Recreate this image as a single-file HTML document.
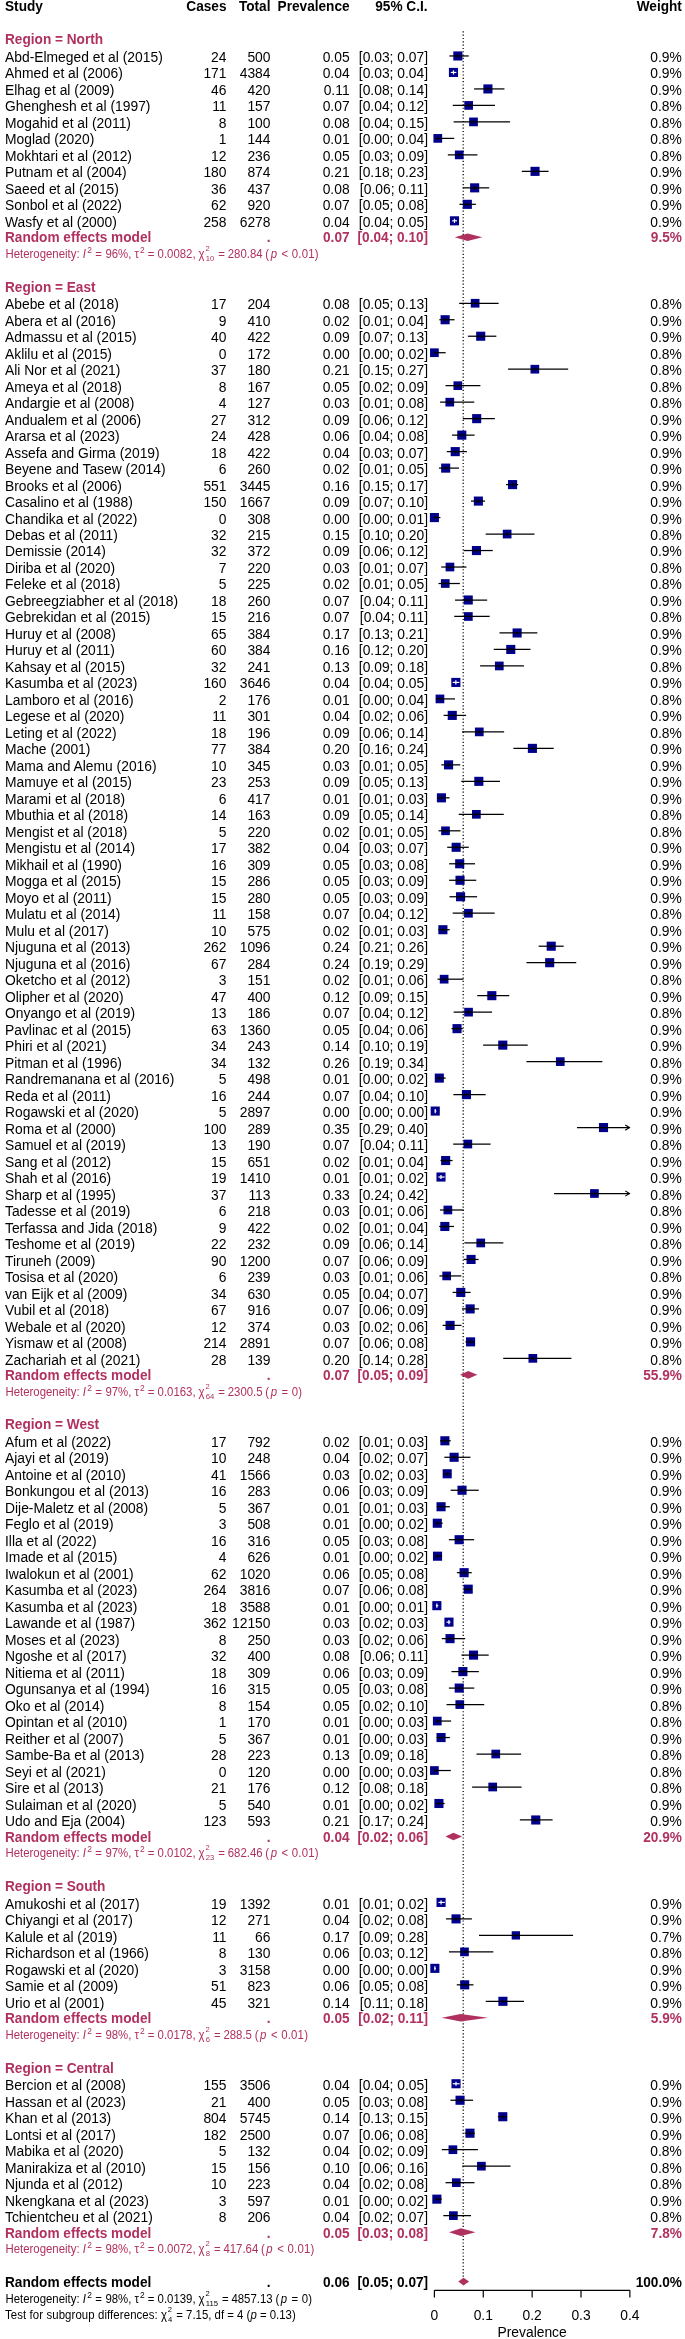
<!DOCTYPE html>
<html><head><meta charset="utf-8"><title>Forest plot</title><style>
html,body{margin:0;padding:0;background:#fff;}
html{overflow:hidden;}
body{width:685px;height:2339px;position:relative;overflow:hidden;font-family:"Liberation Sans",sans-serif;color:#000;}
.t{position:absolute;white-space:nowrap;font-size:13.85px;line-height:16px;height:16px;transform:scaleY(1.045);transform-origin:0 12.75px;}
.r{text-align:right;}
.c{text-align:center;}
.b{font-weight:bold;font-size:13.65px;}
.m{color:#b03060;}
.h{font-size:11.4px;}
.h sup{font-size:8.4px;vertical-align:baseline;position:relative;top:-5.2px;line-height:0;}
.s1{margin-left:1.3px;margin-right:0.2px;}
.tau{margin-left:0px;}
.g{margin-left:0.4px;}
.s2{margin-left:1px;margin-right:-0.2px;}
.chi{position:relative;display:inline-block;margin-left:-0.2px;margin-right:0.8px;}
.ld{letter-spacing:0.1px;}
.q{margin-left:-0.3px;}
.pv{margin-left:-0.4px;letter-spacing:0.2px;}
.pv i{margin-left:1.3px;margin-right:1.0px;}
.chi sup{top:-6.6px;margin-left:0.9px;font-size:7.6px;}
.chi sub{font-size:7.7px;vertical-align:baseline;position:relative;top:3.4px;line-height:0;margin-left:-4px;}
svg{position:absolute;left:0;top:0;}
#tx{position:absolute;left:0;top:0;width:685px;height:2339px;will-change:transform;overflow:hidden;}
.ci{stroke:#000;stroke-width:1.25;}
.ciw{stroke:#fff;stroke-width:1.2;}
.tk{stroke:#000;stroke-width:1;}
.ar{stroke:#000;stroke-width:1.1;fill:none;}
.ref{stroke:#000;stroke-width:1.25;stroke-dasharray:1.15 2.17;}
.ax{stroke:#000;stroke-width:1.2;}
</style></head><body>
<svg width="685" height="2339" viewBox="0 0 685 2339"><line x1="463.2" y1="31.30" x2="463.2" y2="2281.98" class="ref"/>
<rect x="453.31" y="51.41" width="9.1" height="9.1" fill="#00008b"/>
<line x1="449.41" y1="55.96" x2="468.76" y2="55.96" class="ci"/>
<line x1="457.86" y1="54.26" x2="457.86" y2="57.66" class="tk"/>
<rect x="448.91" y="67.89" width="9.1" height="9.1" fill="#00008b"/>
<line x1="450.76" y1="72.44" x2="456.34" y2="72.44" class="ciw"/>
<line x1="453.46" y1="70.34" x2="453.46" y2="74.54" class="ciw"/>
<rect x="483.37" y="84.38" width="9.1" height="9.1" fill="#00008b"/>
<line x1="474.10" y1="88.93" x2="504.44" y2="88.93" class="ci"/>
<line x1="487.92" y1="87.23" x2="487.92" y2="90.63" class="tk"/>
<rect x="464.29" y="101.07" width="8.7" height="8.7" fill="#00008b"/>
<line x1="452.79" y1="105.42" x2="495.01" y2="105.42" class="ci"/>
<line x1="468.64" y1="103.72" x2="468.64" y2="107.12" class="tk"/>
<rect x="469.15" y="117.55" width="8.7" height="8.7" fill="#00008b"/>
<line x1="453.60" y1="121.90" x2="510.10" y2="121.90" class="ci"/>
<line x1="473.50" y1="120.20" x2="473.50" y2="123.60" class="tk"/>
<rect x="433.44" y="134.04" width="8.7" height="8.7" fill="#00008b"/>
<line x1="435.68" y1="138.39" x2="454.21" y2="138.39" class="ci"/>
<line x1="437.79" y1="136.69" x2="437.79" y2="140.09" class="tk"/>
<rect x="454.90" y="150.53" width="8.7" height="8.7" fill="#00008b"/>
<line x1="447.84" y1="154.88" x2="477.45" y2="154.88" class="ci"/>
<line x1="459.25" y1="153.18" x2="459.25" y2="156.58" class="tk"/>
<rect x="530.50" y="166.81" width="9.1" height="9.1" fill="#00008b"/>
<line x1="521.80" y1="171.36" x2="548.54" y2="171.36" class="ci"/>
<line x1="535.05" y1="169.66" x2="535.05" y2="173.06" class="tk"/>
<rect x="470.11" y="183.30" width="9.1" height="9.1" fill="#00008b"/>
<line x1="462.87" y1="187.85" x2="489.19" y2="187.85" class="ci"/>
<line x1="474.66" y1="186.15" x2="474.66" y2="189.55" class="tk"/>
<rect x="462.78" y="199.78" width="9.1" height="9.1" fill="#00008b"/>
<line x1="459.46" y1="204.33" x2="475.84" y2="204.33" class="ci"/>
<line x1="467.33" y1="202.63" x2="467.33" y2="206.03" class="tk"/>
<rect x="449.93" y="216.27" width="9.1" height="9.1" fill="#00008b"/>
<line x1="452.15" y1="220.82" x2="457.03" y2="220.82" class="ciw"/>
<line x1="454.48" y1="218.72" x2="454.48" y2="222.92" class="ciw"/>
<polygon points="454.78,237.31 467.58,233.51 482.39,237.31 467.58,241.11" fill="#b03060"/>
<rect x="470.77" y="298.90" width="8.7" height="8.7" fill="#00008b"/>
<line x1="459.14" y1="303.25" x2="498.61" y2="303.25" class="ci"/>
<line x1="475.12" y1="301.55" x2="475.12" y2="304.95" class="tk"/>
<rect x="440.58" y="315.19" width="9.1" height="9.1" fill="#00008b"/>
<line x1="439.31" y1="319.74" x2="454.55" y2="319.74" class="ci"/>
<line x1="445.13" y1="318.04" x2="445.13" y2="321.44" class="tk"/>
<rect x="476.17" y="331.67" width="9.1" height="9.1" fill="#00008b"/>
<line x1="467.88" y1="336.22" x2="496.35" y2="336.22" class="ci"/>
<line x1="480.72" y1="334.52" x2="480.72" y2="337.92" class="tk"/>
<rect x="430.05" y="348.36" width="8.7" height="8.7" fill="#00008b"/>
<line x1="434.40" y1="352.71" x2="445.66" y2="352.71" class="ci"/>
<line x1="434.40" y1="351.01" x2="434.40" y2="354.41" class="tk"/>
<rect x="530.50" y="364.85" width="8.7" height="8.7" fill="#00008b"/>
<line x1="508.06" y1="369.20" x2="568.16" y2="369.20" class="ci"/>
<line x1="534.86" y1="367.50" x2="534.86" y2="370.90" class="tk"/>
<rect x="453.46" y="381.33" width="8.7" height="8.7" fill="#00008b"/>
<line x1="445.55" y1="385.68" x2="480.40" y2="385.68" class="ci"/>
<line x1="457.81" y1="383.98" x2="457.81" y2="387.38" class="tk"/>
<rect x="445.44" y="397.82" width="8.7" height="8.7" fill="#00008b"/>
<line x1="440.07" y1="402.17" x2="474.29" y2="402.17" class="ci"/>
<line x1="449.79" y1="400.47" x2="449.79" y2="403.87" class="tk"/>
<rect x="472.14" y="414.10" width="9.1" height="9.1" fill="#00008b"/>
<line x1="462.84" y1="418.65" x2="494.90" y2="418.65" class="ci"/>
<line x1="476.69" y1="416.95" x2="476.69" y2="420.35" class="tk"/>
<rect x="457.25" y="430.59" width="9.1" height="9.1" fill="#00008b"/>
<line x1="452.07" y1="435.14" x2="474.57" y2="435.14" class="ci"/>
<line x1="461.80" y1="433.44" x2="461.80" y2="436.84" class="tk"/>
<rect x="450.70" y="447.08" width="9.1" height="9.1" fill="#00008b"/>
<line x1="446.81" y1="451.63" x2="466.90" y2="451.63" class="ci"/>
<line x1="455.25" y1="449.93" x2="455.25" y2="453.33" class="tk"/>
<rect x="441.13" y="463.56" width="9.1" height="9.1" fill="#00008b"/>
<line x1="438.92" y1="468.11" x2="458.98" y2="468.11" class="ci"/>
<line x1="445.68" y1="466.41" x2="445.68" y2="469.81" class="tk"/>
<rect x="508.01" y="480.05" width="9.1" height="9.1" fill="#00008b"/>
<line x1="506.07" y1="484.60" x2="518.17" y2="484.60" class="ci"/>
<line x1="512.56" y1="482.90" x2="512.56" y2="486.30" class="tk"/>
<rect x="473.82" y="496.53" width="9.1" height="9.1" fill="#00008b"/>
<line x1="471.00" y1="501.08" x2="485.08" y2="501.08" class="ci"/>
<line x1="478.37" y1="499.38" x2="478.37" y2="502.78" class="tk"/>
<rect x="429.85" y="513.02" width="9.1" height="9.1" fill="#00008b"/>
<line x1="434.40" y1="517.57" x2="440.42" y2="517.57" class="ci"/>
<line x1="434.40" y1="515.87" x2="434.40" y2="519.27" class="tk"/>
<rect x="502.79" y="529.71" width="8.7" height="8.7" fill="#00008b"/>
<line x1="485.66" y1="534.06" x2="534.46" y2="534.06" class="ci"/>
<line x1="507.14" y1="532.36" x2="507.14" y2="535.76" class="tk"/>
<rect x="471.89" y="545.99" width="9.1" height="9.1" fill="#00008b"/>
<line x1="463.57" y1="550.54" x2="492.74" y2="550.54" class="ci"/>
<line x1="476.44" y1="548.84" x2="476.44" y2="552.24" class="tk"/>
<rect x="445.60" y="562.68" width="8.7" height="8.7" fill="#00008b"/>
<line x1="441.25" y1="567.03" x2="466.45" y2="567.03" class="ci"/>
<line x1="449.95" y1="565.33" x2="449.95" y2="568.73" class="tk"/>
<rect x="440.91" y="579.16" width="8.7" height="8.7" fill="#00008b"/>
<line x1="438.47" y1="583.51" x2="459.89" y2="583.51" class="ci"/>
<line x1="445.26" y1="581.81" x2="445.26" y2="585.22" class="tk"/>
<rect x="463.68" y="595.45" width="9.1" height="9.1" fill="#00008b"/>
<line x1="455.06" y1="600.00" x2="487.16" y2="600.00" class="ci"/>
<line x1="468.23" y1="598.30" x2="468.23" y2="601.70" class="tk"/>
<rect x="463.99" y="612.14" width="8.7" height="8.7" fill="#00008b"/>
<line x1="454.22" y1="616.49" x2="489.68" y2="616.49" class="ci"/>
<line x1="468.34" y1="614.79" x2="468.34" y2="618.19" class="tk"/>
<rect x="512.57" y="628.42" width="9.1" height="9.1" fill="#00008b"/>
<line x1="499.49" y1="632.97" x2="537.35" y2="632.97" class="ci"/>
<line x1="517.12" y1="631.27" x2="517.12" y2="634.67" class="tk"/>
<rect x="506.21" y="644.91" width="9.1" height="9.1" fill="#00008b"/>
<line x1="493.76" y1="649.46" x2="530.46" y2="649.46" class="ci"/>
<line x1="510.76" y1="647.76" x2="510.76" y2="651.16" class="tk"/>
<rect x="494.94" y="661.60" width="8.7" height="8.7" fill="#00008b"/>
<line x1="480.11" y1="665.95" x2="523.91" y2="665.95" class="ci"/>
<line x1="499.29" y1="664.25" x2="499.29" y2="667.65" class="tk"/>
<rect x="451.30" y="677.88" width="9.1" height="9.1" fill="#00008b"/>
<line x1="452.71" y1="682.43" x2="459.35" y2="682.43" class="ciw"/>
<line x1="455.85" y1="680.33" x2="455.85" y2="684.53" class="ciw"/>
<rect x="435.60" y="694.57" width="8.7" height="8.7" fill="#00008b"/>
<line x1="435.93" y1="698.92" x2="455.02" y2="698.92" class="ci"/>
<line x1="439.95" y1="697.22" x2="439.95" y2="700.62" class="tk"/>
<rect x="447.71" y="710.85" width="9.1" height="9.1" fill="#00008b"/>
<line x1="443.60" y1="715.40" x2="466.12" y2="715.40" class="ci"/>
<line x1="452.26" y1="713.70" x2="452.26" y2="717.10" class="tk"/>
<rect x="474.93" y="727.54" width="8.7" height="8.7" fill="#00008b"/>
<line x1="462.14" y1="731.89" x2="504.13" y2="731.89" class="ci"/>
<line x1="479.28" y1="730.19" x2="479.28" y2="733.59" class="tk"/>
<rect x="527.84" y="743.83" width="9.1" height="9.1" fill="#00008b"/>
<line x1="513.41" y1="748.38" x2="553.73" y2="748.38" class="ci"/>
<line x1="532.39" y1="746.68" x2="532.39" y2="750.08" class="tk"/>
<rect x="444.02" y="760.31" width="9.1" height="9.1" fill="#00008b"/>
<line x1="441.34" y1="764.86" x2="460.24" y2="764.86" class="ci"/>
<line x1="448.57" y1="763.16" x2="448.57" y2="766.56" class="tk"/>
<rect x="474.28" y="776.80" width="9.1" height="9.1" fill="#00008b"/>
<line x1="461.23" y1="781.35" x2="499.93" y2="781.35" class="ci"/>
<line x1="478.83" y1="779.65" x2="478.83" y2="783.05" class="tk"/>
<rect x="436.88" y="793.28" width="9.1" height="9.1" fill="#00008b"/>
<line x1="436.96" y1="797.83" x2="449.55" y2="797.83" class="ci"/>
<line x1="441.43" y1="796.13" x2="441.43" y2="799.53" class="tk"/>
<rect x="472.02" y="809.97" width="8.7" height="8.7" fill="#00008b"/>
<line x1="458.71" y1="814.32" x2="503.75" y2="814.32" class="ci"/>
<line x1="476.37" y1="812.62" x2="476.37" y2="816.02" class="tk"/>
<rect x="441.16" y="826.46" width="8.7" height="8.7" fill="#00008b"/>
<line x1="438.58" y1="830.81" x2="460.48" y2="830.81" class="ci"/>
<line x1="445.51" y1="829.11" x2="445.51" y2="832.51" class="tk"/>
<rect x="451.60" y="842.74" width="9.1" height="9.1" fill="#00008b"/>
<line x1="447.20" y1="847.29" x2="468.79" y2="847.29" class="ci"/>
<line x1="456.15" y1="845.59" x2="456.15" y2="848.99" class="tk"/>
<rect x="455.15" y="859.23" width="9.1" height="9.1" fill="#00008b"/>
<line x1="449.20" y1="863.78" x2="475.03" y2="863.78" class="ci"/>
<line x1="459.70" y1="862.08" x2="459.70" y2="865.48" class="tk"/>
<rect x="455.48" y="875.72" width="9.1" height="9.1" fill="#00008b"/>
<line x1="449.16" y1="880.27" x2="476.22" y2="880.27" class="ci"/>
<line x1="460.03" y1="878.57" x2="460.03" y2="881.97" class="tk"/>
<rect x="456.03" y="892.20" width="9.1" height="9.1" fill="#00008b"/>
<line x1="449.49" y1="896.75" x2="477.12" y2="896.75" class="ci"/>
<line x1="460.58" y1="895.05" x2="460.58" y2="898.45" class="tk"/>
<rect x="464.07" y="908.89" width="8.7" height="8.7" fill="#00008b"/>
<line x1="452.66" y1="913.24" x2="494.64" y2="913.24" class="ci"/>
<line x1="468.42" y1="911.54" x2="468.42" y2="914.94" class="tk"/>
<rect x="438.35" y="925.17" width="9.1" height="9.1" fill="#00008b"/>
<line x1="438.29" y1="929.72" x2="449.71" y2="929.72" class="ci"/>
<line x1="442.90" y1="928.02" x2="442.90" y2="931.42" class="tk"/>
<rect x="546.67" y="941.66" width="9.1" height="9.1" fill="#00008b"/>
<line x1="538.59" y1="946.21" x2="563.69" y2="946.21" class="ci"/>
<line x1="551.22" y1="944.51" x2="551.22" y2="947.91" class="tk"/>
<rect x="545.14" y="958.15" width="9.1" height="9.1" fill="#00008b"/>
<line x1="526.43" y1="962.70" x2="576.24" y2="962.70" class="ci"/>
<line x1="549.69" y1="961.00" x2="549.69" y2="964.40" class="tk"/>
<rect x="439.76" y="974.83" width="8.7" height="8.7" fill="#00008b"/>
<line x1="437.52" y1="979.18" x2="463.35" y2="979.18" class="ci"/>
<line x1="444.11" y1="977.48" x2="444.11" y2="980.88" class="tk"/>
<rect x="487.27" y="991.12" width="9.1" height="9.1" fill="#00008b"/>
<line x1="477.22" y1="995.67" x2="509.26" y2="995.67" class="ci"/>
<line x1="491.82" y1="993.97" x2="491.82" y2="997.37" class="tk"/>
<rect x="464.21" y="1007.80" width="8.7" height="8.7" fill="#00008b"/>
<line x1="453.62" y1="1012.15" x2="492.13" y2="1012.15" class="ci"/>
<line x1="468.56" y1="1010.45" x2="468.56" y2="1013.85" class="tk"/>
<rect x="452.49" y="1024.09" width="9.1" height="9.1" fill="#00008b"/>
<line x1="451.55" y1="1028.64" x2="462.70" y2="1028.64" class="ci"/>
<line x1="457.04" y1="1026.94" x2="457.04" y2="1030.34" class="tk"/>
<rect x="498.23" y="1040.58" width="9.1" height="9.1" fill="#00008b"/>
<line x1="483.16" y1="1045.13" x2="527.69" y2="1045.13" class="ci"/>
<line x1="502.78" y1="1043.43" x2="502.78" y2="1046.83" class="tk"/>
<rect x="555.93" y="1057.26" width="8.7" height="8.7" fill="#00008b"/>
<line x1="526.39" y1="1061.61" x2="602.37" y2="1061.61" class="ci"/>
<line x1="560.28" y1="1059.91" x2="560.28" y2="1063.31" class="tk"/>
<rect x="434.76" y="1073.55" width="9.1" height="9.1" fill="#00008b"/>
<line x1="435.86" y1="1078.10" x2="445.64" y2="1078.10" class="ci"/>
<line x1="439.31" y1="1076.40" x2="439.31" y2="1079.80" class="tk"/>
<rect x="461.90" y="1090.04" width="9.1" height="9.1" fill="#00008b"/>
<line x1="453.37" y1="1094.59" x2="485.66" y2="1094.59" class="ci"/>
<line x1="466.45" y1="1092.89" x2="466.45" y2="1096.29" class="tk"/>
<rect x="430.69" y="1106.52" width="9.1" height="9.1" fill="#00008b"/>
<line x1="434.67" y1="1111.07" x2="436.37" y2="1111.07" class="ciw"/>
<line x1="435.24" y1="1108.97" x2="435.24" y2="1113.17" class="ciw"/>
<rect x="598.95" y="1123.01" width="9.1" height="9.1" fill="#00008b"/>
<line x1="577.01" y1="1127.56" x2="629.48" y2="1127.56" class="ci"/>
<polyline points="625.28,1124.96 629.48,1127.56 625.28,1130.16" class="ar"/>
<line x1="603.50" y1="1125.86" x2="603.50" y2="1129.26" class="tk"/>
<rect x="463.49" y="1139.69" width="8.7" height="8.7" fill="#00008b"/>
<line x1="453.19" y1="1144.04" x2="490.55" y2="1144.04" class="ci"/>
<line x1="467.84" y1="1142.34" x2="467.84" y2="1145.74" class="tk"/>
<rect x="441.11" y="1155.98" width="9.1" height="9.1" fill="#00008b"/>
<line x1="440.47" y1="1160.53" x2="452.57" y2="1160.53" class="ci"/>
<line x1="445.66" y1="1158.83" x2="445.66" y2="1162.23" class="tk"/>
<rect x="436.44" y="1172.47" width="9.1" height="9.1" fill="#00008b"/>
<line x1="438.37" y1="1177.02" x2="444.64" y2="1177.02" class="ciw"/>
<line x1="440.99" y1="1174.92" x2="440.99" y2="1179.12" class="ciw"/>
<rect x="590.07" y="1189.15" width="8.7" height="8.7" fill="#00008b"/>
<line x1="554.08" y1="1193.50" x2="629.48" y2="1193.50" class="ci"/>
<polyline points="625.28,1190.90 629.48,1193.50 625.28,1196.10" class="ar"/>
<line x1="594.42" y1="1191.80" x2="594.42" y2="1195.20" class="tk"/>
<rect x="443.50" y="1205.64" width="8.7" height="8.7" fill="#00008b"/>
<line x1="439.93" y1="1209.99" x2="463.77" y2="1209.99" class="ci"/>
<line x1="447.85" y1="1208.29" x2="447.85" y2="1211.69" class="tk"/>
<rect x="440.27" y="1221.92" width="9.1" height="9.1" fill="#00008b"/>
<line x1="439.15" y1="1226.47" x2="453.96" y2="1226.47" class="ci"/>
<line x1="444.82" y1="1224.77" x2="444.82" y2="1228.17" class="tk"/>
<rect x="476.39" y="1238.61" width="8.7" height="8.7" fill="#00008b"/>
<line x1="464.40" y1="1242.96" x2="503.33" y2="1242.96" class="ci"/>
<line x1="480.74" y1="1241.26" x2="480.74" y2="1244.66" class="tk"/>
<rect x="466.50" y="1254.90" width="9.1" height="9.1" fill="#00008b"/>
<line x1="463.63" y1="1259.45" x2="478.61" y2="1259.45" class="ci"/>
<line x1="471.05" y1="1257.75" x2="471.05" y2="1261.15" class="tk"/>
<rect x="442.32" y="1271.58" width="8.7" height="8.7" fill="#00008b"/>
<line x1="439.38" y1="1275.93" x2="461.33" y2="1275.93" class="ci"/>
<line x1="446.67" y1="1274.23" x2="446.67" y2="1277.63" class="tk"/>
<rect x="456.22" y="1287.87" width="9.1" height="9.1" fill="#00008b"/>
<line x1="452.56" y1="1292.42" x2="470.61" y2="1292.42" class="ci"/>
<line x1="460.77" y1="1290.72" x2="460.77" y2="1294.12" class="tk"/>
<rect x="465.60" y="1304.36" width="9.1" height="9.1" fill="#00008b"/>
<line x1="461.94" y1="1308.91" x2="478.96" y2="1308.91" class="ci"/>
<line x1="470.15" y1="1307.21" x2="470.15" y2="1310.61" class="tk"/>
<rect x="445.53" y="1320.84" width="9.1" height="9.1" fill="#00008b"/>
<line x1="442.60" y1="1325.39" x2="461.51" y2="1325.39" class="ci"/>
<line x1="450.08" y1="1323.69" x2="450.08" y2="1327.09" class="tk"/>
<rect x="466.02" y="1337.33" width="9.1" height="9.1" fill="#00008b"/>
<line x1="465.46" y1="1341.88" x2="474.96" y2="1341.88" class="ci"/>
<line x1="470.57" y1="1340.18" x2="470.57" y2="1343.58" class="tk"/>
<rect x="528.49" y="1354.01" width="8.7" height="8.7" fill="#00008b"/>
<line x1="503.21" y1="1358.36" x2="571.43" y2="1358.36" class="ci"/>
<line x1="532.84" y1="1356.66" x2="532.84" y2="1360.06" class="tk"/>
<polygon points="460.11,1374.85 468.22,1371.05 477.31,1374.85 468.22,1378.65" fill="#b03060"/>
<rect x="440.34" y="1436.24" width="9.1" height="9.1" fill="#00008b"/>
<line x1="440.20" y1="1440.79" x2="450.75" y2="1440.79" class="ci"/>
<line x1="444.89" y1="1439.09" x2="444.89" y2="1442.49" class="tk"/>
<rect x="449.56" y="1452.73" width="9.1" height="9.1" fill="#00008b"/>
<line x1="444.34" y1="1457.28" x2="470.44" y2="1457.28" class="ci"/>
<line x1="454.11" y1="1455.58" x2="454.11" y2="1458.98" class="tk"/>
<rect x="442.64" y="1469.22" width="9.1" height="9.1" fill="#00008b"/>
<line x1="443.11" y1="1473.77" x2="451.18" y2="1473.77" class="ci"/>
<line x1="447.19" y1="1472.07" x2="447.19" y2="1475.47" class="tk"/>
<rect x="457.48" y="1485.70" width="9.1" height="9.1" fill="#00008b"/>
<line x1="450.64" y1="1490.25" x2="478.75" y2="1490.25" class="ci"/>
<line x1="462.03" y1="1488.55" x2="462.03" y2="1491.95" class="tk"/>
<rect x="436.51" y="1502.19" width="9.1" height="9.1" fill="#00008b"/>
<line x1="436.89" y1="1506.74" x2="449.86" y2="1506.74" class="ci"/>
<line x1="441.06" y1="1505.04" x2="441.06" y2="1508.44" class="tk"/>
<rect x="432.74" y="1518.68" width="9.1" height="9.1" fill="#00008b"/>
<line x1="434.85" y1="1523.23" x2="442.64" y2="1523.23" class="ci"/>
<line x1="437.29" y1="1521.53" x2="437.29" y2="1524.93" class="tk"/>
<rect x="454.59" y="1535.16" width="9.1" height="9.1" fill="#00008b"/>
<line x1="448.86" y1="1539.71" x2="474.13" y2="1539.71" class="ci"/>
<line x1="459.14" y1="1538.01" x2="459.14" y2="1541.41" class="tk"/>
<rect x="432.97" y="1551.65" width="9.1" height="9.1" fill="#00008b"/>
<line x1="435.01" y1="1556.20" x2="442.11" y2="1556.20" class="ci"/>
<line x1="437.52" y1="1554.50" x2="437.52" y2="1557.90" class="tk"/>
<rect x="459.56" y="1568.13" width="9.1" height="9.1" fill="#00008b"/>
<line x1="456.92" y1="1572.68" x2="471.74" y2="1572.68" class="ci"/>
<line x1="464.11" y1="1570.98" x2="464.11" y2="1574.38" class="tk"/>
<rect x="463.66" y="1584.62" width="9.1" height="9.1" fill="#00008b"/>
<line x1="463.79" y1="1589.17" x2="471.79" y2="1589.17" class="ci"/>
<line x1="468.21" y1="1587.47" x2="468.21" y2="1590.87" class="tk"/>
<rect x="432.30" y="1601.11" width="9.1" height="9.1" fill="#00008b"/>
<line x1="435.85" y1="1605.66" x2="438.27" y2="1605.66" class="ciw"/>
<line x1="436.85" y1="1603.56" x2="436.85" y2="1607.76" class="ciw"/>
<rect x="444.41" y="1617.59" width="9.1" height="9.1" fill="#00008b"/>
<line x1="446.57" y1="1622.14" x2="450.51" y2="1622.14" class="ciw"/>
<line x1="448.96" y1="1620.04" x2="448.96" y2="1624.24" class="ciw"/>
<rect x="445.49" y="1634.08" width="9.1" height="9.1" fill="#00008b"/>
<line x1="441.78" y1="1638.63" x2="465.14" y2="1638.63" class="ci"/>
<line x1="450.04" y1="1636.93" x2="450.04" y2="1640.33" class="tk"/>
<rect x="468.95" y="1650.56" width="9.1" height="9.1" fill="#00008b"/>
<line x1="461.46" y1="1655.11" x2="488.68" y2="1655.11" class="ci"/>
<line x1="473.50" y1="1653.41" x2="473.50" y2="1656.81" class="tk"/>
<rect x="458.32" y="1667.05" width="9.1" height="9.1" fill="#00008b"/>
<line x1="451.46" y1="1671.60" x2="478.83" y2="1671.60" class="ci"/>
<line x1="462.87" y1="1669.90" x2="462.87" y2="1673.30" class="tk"/>
<rect x="454.67" y="1683.54" width="9.1" height="9.1" fill="#00008b"/>
<line x1="448.90" y1="1688.09" x2="474.25" y2="1688.09" class="ci"/>
<line x1="459.22" y1="1686.39" x2="459.22" y2="1689.79" class="tk"/>
<rect x="455.44" y="1700.22" width="8.7" height="8.7" fill="#00008b"/>
<line x1="446.56" y1="1704.57" x2="484.24" y2="1704.57" class="ci"/>
<line x1="459.79" y1="1702.87" x2="459.79" y2="1706.27" class="tk"/>
<rect x="432.92" y="1716.71" width="8.7" height="8.7" fill="#00008b"/>
<line x1="435.38" y1="1721.06" x2="451.11" y2="1721.06" class="ci"/>
<line x1="437.27" y1="1719.36" x2="437.27" y2="1722.76" class="tk"/>
<rect x="436.51" y="1733.00" width="9.1" height="9.1" fill="#00008b"/>
<line x1="436.63" y1="1737.55" x2="449.86" y2="1737.55" class="ci"/>
<line x1="441.06" y1="1735.85" x2="441.06" y2="1739.25" class="tk"/>
<rect x="491.41" y="1749.68" width="8.7" height="8.7" fill="#00008b"/>
<line x1="476.51" y1="1754.03" x2="521.11" y2="1754.03" class="ci"/>
<line x1="495.76" y1="1752.33" x2="495.76" y2="1755.73" class="tk"/>
<rect x="430.05" y="1766.17" width="8.7" height="8.7" fill="#00008b"/>
<line x1="434.40" y1="1770.52" x2="450.76" y2="1770.52" class="ci"/>
<line x1="434.40" y1="1768.82" x2="434.40" y2="1772.22" class="tk"/>
<rect x="488.36" y="1782.65" width="8.7" height="8.7" fill="#00008b"/>
<line x1="472.10" y1="1787.00" x2="521.56" y2="1787.00" class="ci"/>
<line x1="492.71" y1="1785.30" x2="492.71" y2="1788.70" class="tk"/>
<rect x="434.37" y="1798.94" width="9.1" height="9.1" fill="#00008b"/>
<line x1="435.70" y1="1803.49" x2="444.72" y2="1803.49" class="ci"/>
<line x1="438.92" y1="1801.79" x2="438.92" y2="1805.19" class="tk"/>
<rect x="531.22" y="1815.43" width="9.1" height="9.1" fill="#00008b"/>
<line x1="519.87" y1="1819.98" x2="552.60" y2="1819.98" class="ci"/>
<line x1="535.77" y1="1818.28" x2="535.77" y2="1821.68" class="tk"/>
<polygon points="445.49,1836.46 453.41,1832.66 462.11,1836.46 453.41,1840.26" fill="#b03060"/>
<rect x="436.52" y="1897.86" width="9.1" height="9.1" fill="#00008b"/>
<line x1="438.43" y1="1902.41" x2="444.78" y2="1902.41" class="ciw"/>
<line x1="441.07" y1="1900.31" x2="441.07" y2="1904.51" class="ciw"/>
<rect x="451.49" y="1914.34" width="9.1" height="9.1" fill="#00008b"/>
<line x1="446.00" y1="1918.89" x2="471.90" y2="1918.89" class="ci"/>
<line x1="456.04" y1="1917.19" x2="456.04" y2="1920.59" class="tk"/>
<rect x="511.70" y="1931.23" width="8.3" height="8.3" fill="#00008b"/>
<line x1="478.99" y1="1935.38" x2="573.03" y2="1935.38" class="ci"/>
<line x1="515.85" y1="1933.68" x2="515.85" y2="1937.08" class="tk"/>
<rect x="460.12" y="1947.51" width="8.7" height="8.7" fill="#00008b"/>
<line x1="448.96" y1="1951.86" x2="493.29" y2="1951.86" class="ci"/>
<line x1="464.47" y1="1950.16" x2="464.47" y2="1953.56" class="tk"/>
<rect x="430.31" y="1963.80" width="9.1" height="9.1" fill="#00008b"/>
<line x1="434.50" y1="1968.35" x2="435.76" y2="1968.35" class="ciw"/>
<line x1="434.86" y1="1966.25" x2="434.86" y2="1970.45" class="ciw"/>
<rect x="460.13" y="1980.29" width="9.1" height="9.1" fill="#00008b"/>
<line x1="456.77" y1="1984.84" x2="473.48" y2="1984.84" class="ci"/>
<line x1="464.68" y1="1983.14" x2="464.68" y2="1986.54" class="tk"/>
<rect x="498.36" y="1996.77" width="9.1" height="9.1" fill="#00008b"/>
<line x1="485.76" y1="2001.32" x2="524.02" y2="2001.32" class="ci"/>
<line x1="502.91" y1="1999.62" x2="502.91" y2="2003.02" class="tk"/>
<polygon points="441.68,2017.81 460.59,2014.01 488.01,2017.81 460.59,2021.61" fill="#b03060"/>
<rect x="451.46" y="2079.20" width="9.1" height="9.1" fill="#00008b"/>
<line x1="452.80" y1="2083.75" x2="459.59" y2="2083.75" class="ciw"/>
<line x1="456.01" y1="2081.65" x2="456.01" y2="2085.85" class="ciw"/>
<rect x="455.51" y="2095.69" width="9.1" height="9.1" fill="#00008b"/>
<line x1="450.42" y1="2100.24" x2="473.07" y2="2100.24" class="ci"/>
<line x1="460.06" y1="2098.54" x2="460.06" y2="2101.94" class="tk"/>
<rect x="498.24" y="2112.18" width="9.1" height="9.1" fill="#00008b"/>
<line x1="497.87" y1="2116.73" x2="506.72" y2="2116.73" class="ci"/>
<line x1="502.79" y1="2115.03" x2="502.79" y2="2118.43" class="tk"/>
<rect x="465.43" y="2128.66" width="9.1" height="9.1" fill="#00008b"/>
<line x1="464.58" y1="2133.21" x2="474.74" y2="2133.21" class="ci"/>
<line x1="469.98" y1="2131.51" x2="469.98" y2="2134.91" class="tk"/>
<rect x="448.56" y="2145.35" width="8.7" height="8.7" fill="#00008b"/>
<line x1="441.83" y1="2149.70" x2="477.88" y2="2149.70" class="ci"/>
<line x1="452.91" y1="2148.00" x2="452.91" y2="2151.40" class="tk"/>
<rect x="477.04" y="2161.83" width="8.7" height="8.7" fill="#00008b"/>
<line x1="462.24" y1="2166.18" x2="510.53" y2="2166.18" class="ci"/>
<line x1="481.39" y1="2164.48" x2="481.39" y2="2167.88" class="tk"/>
<rect x="451.96" y="2178.32" width="8.7" height="8.7" fill="#00008b"/>
<line x1="445.54" y1="2182.67" x2="474.48" y2="2182.67" class="ci"/>
<line x1="456.31" y1="2180.97" x2="456.31" y2="2184.37" class="tk"/>
<rect x="432.31" y="2194.61" width="9.1" height="9.1" fill="#00008b"/>
<line x1="434.69" y1="2199.16" x2="441.78" y2="2199.16" class="ci"/>
<line x1="436.86" y1="2197.46" x2="436.86" y2="2200.86" class="tk"/>
<rect x="449.03" y="2211.29" width="8.7" height="8.7" fill="#00008b"/>
<line x1="443.30" y1="2215.64" x2="471.00" y2="2215.64" class="ci"/>
<line x1="453.38" y1="2213.94" x2="453.38" y2="2217.34" class="tk"/>
<polygon points="449.01,2232.13 460.94,2228.33 475.55,2232.13 460.94,2235.93" fill="#b03060"/>
<polygon points="458.30,2281.59 463.48,2277.79 469.10,2281.59 463.48,2285.39" fill="#b03060"/>
<line x1="434.40" y1="2290.3" x2="629.88" y2="2290.3" class="ax"/>
<line x1="434.40" y1="2290.3" x2="434.40" y2="2297.6000000000004" class="ax"/>
<line x1="483.27" y1="2290.3" x2="483.27" y2="2297.6000000000004" class="ax"/>
<line x1="532.14" y1="2290.3" x2="532.14" y2="2297.6000000000004" class="ax"/>
<line x1="581.01" y1="2290.3" x2="581.01" y2="2297.6000000000004" class="ax"/>
<line x1="629.88" y1="2290.3" x2="629.88" y2="2297.6000000000004" class="ax"/></svg>
<div id="tx"><div class="t b" style="top:-1.00px;left:5px">Study</div>
<div class="t r b" style="top:-1.00px;left:-73.50px;width:300px">Cases</div>
<div class="t r b" style="top:-1.00px;left:-29.50px;width:300px">Total</div>
<div class="t r b" style="top:-1.00px;left:49.60px;width:300px">Prevalence</div>
<div class="t r b" style="top:-1.00px;left:127.60px;width:300px">95% C.I.</div>
<div class="t r b" style="top:-1.00px;left:381.90px;width:300px">Weight</div>
<div class="t b m" style="top:32.28px;left:5px">Region = North</div>
<div class="t " style="top:48.77px;left:5px">Abd-Elmeged et al (2015)</div>
<div class="t r " style="top:48.77px;left:-73.50px;width:300px">24</div>
<div class="t r " style="top:48.77px;left:-29.50px;width:300px">500</div>
<div class="t r " style="top:48.77px;left:49.60px;width:300px">0.05</div>
<div class="t r " style="top:48.77px;left:128.10px;width:300px">[0.03; 0.07]</div>
<div class="t r " style="top:48.77px;left:381.90px;width:300px">0.9%</div>
<div class="t " style="top:65.26px;left:5px">Ahmed et al (2006)</div>
<div class="t r " style="top:65.26px;left:-73.50px;width:300px">171</div>
<div class="t r " style="top:65.26px;left:-29.50px;width:300px">4384</div>
<div class="t r " style="top:65.26px;left:49.60px;width:300px">0.04</div>
<div class="t r " style="top:65.26px;left:128.10px;width:300px">[0.03; 0.04]</div>
<div class="t r " style="top:65.26px;left:381.90px;width:300px">0.9%</div>
<div class="t " style="top:81.75px;left:5px">Elhag et al (2009)</div>
<div class="t r " style="top:81.75px;left:-73.50px;width:300px">46</div>
<div class="t r " style="top:81.75px;left:-29.50px;width:300px">420</div>
<div class="t r " style="top:81.75px;left:49.60px;width:300px">0.11</div>
<div class="t r " style="top:81.75px;left:128.10px;width:300px">[0.08; 0.14]</div>
<div class="t r " style="top:81.75px;left:381.90px;width:300px">0.9%</div>
<div class="t " style="top:98.24px;left:5px">Ghenghesh et al (1997)</div>
<div class="t r " style="top:98.24px;left:-73.50px;width:300px">11</div>
<div class="t r " style="top:98.24px;left:-29.50px;width:300px">157</div>
<div class="t r " style="top:98.24px;left:49.60px;width:300px">0.07</div>
<div class="t r " style="top:98.24px;left:128.10px;width:300px">[0.04; 0.12]</div>
<div class="t r " style="top:98.24px;left:381.90px;width:300px">0.8%</div>
<div class="t " style="top:114.73px;left:5px">Mogahid et al (2011)</div>
<div class="t r " style="top:114.73px;left:-73.50px;width:300px">8</div>
<div class="t r " style="top:114.73px;left:-29.50px;width:300px">100</div>
<div class="t r " style="top:114.73px;left:49.60px;width:300px">0.08</div>
<div class="t r " style="top:114.73px;left:128.10px;width:300px">[0.04; 0.15]</div>
<div class="t r " style="top:114.73px;left:381.90px;width:300px">0.8%</div>
<div class="t " style="top:131.22px;left:5px">Moglad (2020)</div>
<div class="t r " style="top:131.22px;left:-73.50px;width:300px">1</div>
<div class="t r " style="top:131.22px;left:-29.50px;width:300px">144</div>
<div class="t r " style="top:131.22px;left:49.60px;width:300px">0.01</div>
<div class="t r " style="top:131.22px;left:128.10px;width:300px">[0.00; 0.04]</div>
<div class="t r " style="top:131.22px;left:381.90px;width:300px">0.8%</div>
<div class="t " style="top:147.71px;left:5px">Mokhtari et al (2012)</div>
<div class="t r " style="top:147.71px;left:-73.50px;width:300px">12</div>
<div class="t r " style="top:147.71px;left:-29.50px;width:300px">236</div>
<div class="t r " style="top:147.71px;left:49.60px;width:300px">0.05</div>
<div class="t r " style="top:147.71px;left:128.10px;width:300px">[0.03; 0.09]</div>
<div class="t r " style="top:147.71px;left:381.90px;width:300px">0.8%</div>
<div class="t " style="top:164.20px;left:5px">Putnam et al (2004)</div>
<div class="t r " style="top:164.20px;left:-73.50px;width:300px">180</div>
<div class="t r " style="top:164.20px;left:-29.50px;width:300px">874</div>
<div class="t r " style="top:164.20px;left:49.60px;width:300px">0.21</div>
<div class="t r " style="top:164.20px;left:128.10px;width:300px">[0.18; 0.23]</div>
<div class="t r " style="top:164.20px;left:381.90px;width:300px">0.9%</div>
<div class="t " style="top:180.69px;left:5px">Saeed et al (2015)</div>
<div class="t r " style="top:180.69px;left:-73.50px;width:300px">36</div>
<div class="t r " style="top:180.69px;left:-29.50px;width:300px">437</div>
<div class="t r " style="top:180.69px;left:49.60px;width:300px">0.08</div>
<div class="t r " style="top:180.69px;left:128.10px;width:300px">[0.06; 0.11]</div>
<div class="t r " style="top:180.69px;left:381.90px;width:300px">0.9%</div>
<div class="t " style="top:197.19px;left:5px">Sonbol et al (2022)</div>
<div class="t r " style="top:197.19px;left:-73.50px;width:300px">62</div>
<div class="t r " style="top:197.19px;left:-29.50px;width:300px">920</div>
<div class="t r " style="top:197.19px;left:49.60px;width:300px">0.07</div>
<div class="t r " style="top:197.19px;left:128.10px;width:300px">[0.05; 0.08]</div>
<div class="t r " style="top:197.19px;left:381.90px;width:300px">0.9%</div>
<div class="t " style="top:213.68px;left:5px">Wasfy et al (2000)</div>
<div class="t r " style="top:213.68px;left:-73.50px;width:300px">258</div>
<div class="t r " style="top:213.68px;left:-29.50px;width:300px">6278</div>
<div class="t r " style="top:213.68px;left:49.60px;width:300px">0.04</div>
<div class="t r " style="top:213.68px;left:128.10px;width:300px">[0.04; 0.05]</div>
<div class="t r " style="top:213.68px;left:381.90px;width:300px">0.9%</div>
<div class="t b m" style="top:230.17px;left:5px">Random effects model</div>
<div class="t r b m" style="top:230.17px;left:-29.50px;width:300px">.</div>
<div class="t r b m" style="top:230.17px;left:49.60px;width:300px">0.07</div>
<div class="t r b m" style="top:230.17px;left:128.10px;width:300px">[0.04; 0.10]</div>
<div class="t r b m" style="top:230.17px;left:381.90px;width:300px">9.5%</div>
<div class="t h m" style="top:245.86px;left:5.5px">Heterogeneity: <i>I</i><sup class="s1">2</sup> = <span class="g">96%</span>, <span class="tau">&tau;</span><sup class="s2">2</sup> = 0.0082, <span class="chi">&chi;<sup>2</sup><sub>10</sub></span> = <span class="q">280.84</span> <span class="pv">(<i>p</i> < 0.01)</span></div>
<div class="t b m" style="top:279.64px;left:5px">Region = East</div>
<div class="t " style="top:296.13px;left:5px">Abebe et al (2018)</div>
<div class="t r " style="top:296.13px;left:-73.50px;width:300px">17</div>
<div class="t r " style="top:296.13px;left:-29.50px;width:300px">204</div>
<div class="t r " style="top:296.13px;left:49.60px;width:300px">0.08</div>
<div class="t r " style="top:296.13px;left:128.10px;width:300px">[0.05; 0.13]</div>
<div class="t r " style="top:296.13px;left:381.90px;width:300px">0.8%</div>
<div class="t " style="top:312.62px;left:5px">Abera et al (2016)</div>
<div class="t r " style="top:312.62px;left:-73.50px;width:300px">9</div>
<div class="t r " style="top:312.62px;left:-29.50px;width:300px">410</div>
<div class="t r " style="top:312.62px;left:49.60px;width:300px">0.02</div>
<div class="t r " style="top:312.62px;left:128.10px;width:300px">[0.01; 0.04]</div>
<div class="t r " style="top:312.62px;left:381.90px;width:300px">0.9%</div>
<div class="t " style="top:329.11px;left:5px">Admassu et al (2015)</div>
<div class="t r " style="top:329.11px;left:-73.50px;width:300px">40</div>
<div class="t r " style="top:329.11px;left:-29.50px;width:300px">422</div>
<div class="t r " style="top:329.11px;left:49.60px;width:300px">0.09</div>
<div class="t r " style="top:329.11px;left:128.10px;width:300px">[0.07; 0.13]</div>
<div class="t r " style="top:329.11px;left:381.90px;width:300px">0.9%</div>
<div class="t " style="top:345.60px;left:5px">Aklilu et al (2015)</div>
<div class="t r " style="top:345.60px;left:-73.50px;width:300px">0</div>
<div class="t r " style="top:345.60px;left:-29.50px;width:300px">172</div>
<div class="t r " style="top:345.60px;left:49.60px;width:300px">0.00</div>
<div class="t r " style="top:345.60px;left:128.10px;width:300px">[0.00; 0.02]</div>
<div class="t r " style="top:345.60px;left:381.90px;width:300px">0.8%</div>
<div class="t " style="top:362.09px;left:5px">Ali Nor et al (2021)</div>
<div class="t r " style="top:362.09px;left:-73.50px;width:300px">37</div>
<div class="t r " style="top:362.09px;left:-29.50px;width:300px">180</div>
<div class="t r " style="top:362.09px;left:49.60px;width:300px">0.21</div>
<div class="t r " style="top:362.09px;left:128.10px;width:300px">[0.15; 0.27]</div>
<div class="t r " style="top:362.09px;left:381.90px;width:300px">0.8%</div>
<div class="t " style="top:378.58px;left:5px">Ameya et al (2018)</div>
<div class="t r " style="top:378.58px;left:-73.50px;width:300px">8</div>
<div class="t r " style="top:378.58px;left:-29.50px;width:300px">167</div>
<div class="t r " style="top:378.58px;left:49.60px;width:300px">0.05</div>
<div class="t r " style="top:378.58px;left:128.10px;width:300px">[0.02; 0.09]</div>
<div class="t r " style="top:378.58px;left:381.90px;width:300px">0.8%</div>
<div class="t " style="top:395.07px;left:5px">Andargie et al (2008)</div>
<div class="t r " style="top:395.07px;left:-73.50px;width:300px">4</div>
<div class="t r " style="top:395.07px;left:-29.50px;width:300px">127</div>
<div class="t r " style="top:395.07px;left:49.60px;width:300px">0.03</div>
<div class="t r " style="top:395.07px;left:128.10px;width:300px">[0.01; 0.08]</div>
<div class="t r " style="top:395.07px;left:381.90px;width:300px">0.8%</div>
<div class="t " style="top:411.56px;left:5px">Andualem et al (2006)</div>
<div class="t r " style="top:411.56px;left:-73.50px;width:300px">27</div>
<div class="t r " style="top:411.56px;left:-29.50px;width:300px">312</div>
<div class="t r " style="top:411.56px;left:49.60px;width:300px">0.09</div>
<div class="t r " style="top:411.56px;left:128.10px;width:300px">[0.06; 0.12]</div>
<div class="t r " style="top:411.56px;left:381.90px;width:300px">0.9%</div>
<div class="t " style="top:428.05px;left:5px">Ararsa et al (2023)</div>
<div class="t r " style="top:428.05px;left:-73.50px;width:300px">24</div>
<div class="t r " style="top:428.05px;left:-29.50px;width:300px">428</div>
<div class="t r " style="top:428.05px;left:49.60px;width:300px">0.06</div>
<div class="t r " style="top:428.05px;left:128.10px;width:300px">[0.04; 0.08]</div>
<div class="t r " style="top:428.05px;left:381.90px;width:300px">0.9%</div>
<div class="t " style="top:444.54px;left:5px">Assefa and Girma (2019)</div>
<div class="t r " style="top:444.54px;left:-73.50px;width:300px">18</div>
<div class="t r " style="top:444.54px;left:-29.50px;width:300px">422</div>
<div class="t r " style="top:444.54px;left:49.60px;width:300px">0.04</div>
<div class="t r " style="top:444.54px;left:128.10px;width:300px">[0.03; 0.07]</div>
<div class="t r " style="top:444.54px;left:381.90px;width:300px">0.9%</div>
<div class="t " style="top:461.03px;left:5px">Beyene and Tasew (2014)</div>
<div class="t r " style="top:461.03px;left:-73.50px;width:300px">6</div>
<div class="t r " style="top:461.03px;left:-29.50px;width:300px">260</div>
<div class="t r " style="top:461.03px;left:49.60px;width:300px">0.02</div>
<div class="t r " style="top:461.03px;left:128.10px;width:300px">[0.01; 0.05]</div>
<div class="t r " style="top:461.03px;left:381.90px;width:300px">0.9%</div>
<div class="t " style="top:477.52px;left:5px">Brooks et al (2006)</div>
<div class="t r " style="top:477.52px;left:-73.50px;width:300px">551</div>
<div class="t r " style="top:477.52px;left:-29.50px;width:300px">3445</div>
<div class="t r " style="top:477.52px;left:49.60px;width:300px">0.16</div>
<div class="t r " style="top:477.52px;left:128.10px;width:300px">[0.15; 0.17]</div>
<div class="t r " style="top:477.52px;left:381.90px;width:300px">0.9%</div>
<div class="t " style="top:494.01px;left:5px">Casalino et al (1988)</div>
<div class="t r " style="top:494.01px;left:-73.50px;width:300px">150</div>
<div class="t r " style="top:494.01px;left:-29.50px;width:300px">1667</div>
<div class="t r " style="top:494.01px;left:49.60px;width:300px">0.09</div>
<div class="t r " style="top:494.01px;left:128.10px;width:300px">[0.07; 0.10]</div>
<div class="t r " style="top:494.01px;left:381.90px;width:300px">0.9%</div>
<div class="t " style="top:510.50px;left:5px">Chandika et al (2022)</div>
<div class="t r " style="top:510.50px;left:-73.50px;width:300px">0</div>
<div class="t r " style="top:510.50px;left:-29.50px;width:300px">308</div>
<div class="t r " style="top:510.50px;left:49.60px;width:300px">0.00</div>
<div class="t r " style="top:510.50px;left:128.10px;width:300px">[0.00; 0.01]</div>
<div class="t r " style="top:510.50px;left:381.90px;width:300px">0.9%</div>
<div class="t " style="top:526.99px;left:5px">Debas et al (2011)</div>
<div class="t r " style="top:526.99px;left:-73.50px;width:300px">32</div>
<div class="t r " style="top:526.99px;left:-29.50px;width:300px">215</div>
<div class="t r " style="top:526.99px;left:49.60px;width:300px">0.15</div>
<div class="t r " style="top:526.99px;left:128.10px;width:300px">[0.10; 0.20]</div>
<div class="t r " style="top:526.99px;left:381.90px;width:300px">0.8%</div>
<div class="t " style="top:543.48px;left:5px">Demissie (2014)</div>
<div class="t r " style="top:543.48px;left:-73.50px;width:300px">32</div>
<div class="t r " style="top:543.48px;left:-29.50px;width:300px">372</div>
<div class="t r " style="top:543.48px;left:49.60px;width:300px">0.09</div>
<div class="t r " style="top:543.48px;left:128.10px;width:300px">[0.06; 0.12]</div>
<div class="t r " style="top:543.48px;left:381.90px;width:300px">0.9%</div>
<div class="t " style="top:559.97px;left:5px">Diriba et al (2020)</div>
<div class="t r " style="top:559.97px;left:-73.50px;width:300px">7</div>
<div class="t r " style="top:559.97px;left:-29.50px;width:300px">220</div>
<div class="t r " style="top:559.97px;left:49.60px;width:300px">0.03</div>
<div class="t r " style="top:559.97px;left:128.10px;width:300px">[0.01; 0.07]</div>
<div class="t r " style="top:559.97px;left:381.90px;width:300px">0.8%</div>
<div class="t " style="top:576.47px;left:5px">Feleke et al (2018)</div>
<div class="t r " style="top:576.47px;left:-73.50px;width:300px">5</div>
<div class="t r " style="top:576.47px;left:-29.50px;width:300px">225</div>
<div class="t r " style="top:576.47px;left:49.60px;width:300px">0.02</div>
<div class="t r " style="top:576.47px;left:128.10px;width:300px">[0.01; 0.05]</div>
<div class="t r " style="top:576.47px;left:381.90px;width:300px">0.8%</div>
<div class="t " style="top:592.96px;left:5px">Gebreegziabher et al (2018)</div>
<div class="t r " style="top:592.96px;left:-73.50px;width:300px">18</div>
<div class="t r " style="top:592.96px;left:-29.50px;width:300px">260</div>
<div class="t r " style="top:592.96px;left:49.60px;width:300px">0.07</div>
<div class="t r " style="top:592.96px;left:128.10px;width:300px">[0.04; 0.11]</div>
<div class="t r " style="top:592.96px;left:381.90px;width:300px">0.9%</div>
<div class="t " style="top:609.45px;left:5px">Gebrekidan et al (2015)</div>
<div class="t r " style="top:609.45px;left:-73.50px;width:300px">15</div>
<div class="t r " style="top:609.45px;left:-29.50px;width:300px">216</div>
<div class="t r " style="top:609.45px;left:49.60px;width:300px">0.07</div>
<div class="t r " style="top:609.45px;left:128.10px;width:300px">[0.04; 0.11]</div>
<div class="t r " style="top:609.45px;left:381.90px;width:300px">0.8%</div>
<div class="t " style="top:625.94px;left:5px">Huruy et al (2008)</div>
<div class="t r " style="top:625.94px;left:-73.50px;width:300px">65</div>
<div class="t r " style="top:625.94px;left:-29.50px;width:300px">384</div>
<div class="t r " style="top:625.94px;left:49.60px;width:300px">0.17</div>
<div class="t r " style="top:625.94px;left:128.10px;width:300px">[0.13; 0.21]</div>
<div class="t r " style="top:625.94px;left:381.90px;width:300px">0.9%</div>
<div class="t " style="top:642.43px;left:5px">Huruy et al (2011)</div>
<div class="t r " style="top:642.43px;left:-73.50px;width:300px">60</div>
<div class="t r " style="top:642.43px;left:-29.50px;width:300px">384</div>
<div class="t r " style="top:642.43px;left:49.60px;width:300px">0.16</div>
<div class="t r " style="top:642.43px;left:128.10px;width:300px">[0.12; 0.20]</div>
<div class="t r " style="top:642.43px;left:381.90px;width:300px">0.9%</div>
<div class="t " style="top:658.92px;left:5px">Kahsay et al (2015)</div>
<div class="t r " style="top:658.92px;left:-73.50px;width:300px">32</div>
<div class="t r " style="top:658.92px;left:-29.50px;width:300px">241</div>
<div class="t r " style="top:658.92px;left:49.60px;width:300px">0.13</div>
<div class="t r " style="top:658.92px;left:128.10px;width:300px">[0.09; 0.18]</div>
<div class="t r " style="top:658.92px;left:381.90px;width:300px">0.8%</div>
<div class="t " style="top:675.41px;left:5px">Kasumba et al (2023)</div>
<div class="t r " style="top:675.41px;left:-73.50px;width:300px">160</div>
<div class="t r " style="top:675.41px;left:-29.50px;width:300px">3646</div>
<div class="t r " style="top:675.41px;left:49.60px;width:300px">0.04</div>
<div class="t r " style="top:675.41px;left:128.10px;width:300px">[0.04; 0.05]</div>
<div class="t r " style="top:675.41px;left:381.90px;width:300px">0.9%</div>
<div class="t " style="top:691.90px;left:5px">Lamboro et al (2016)</div>
<div class="t r " style="top:691.90px;left:-73.50px;width:300px">2</div>
<div class="t r " style="top:691.90px;left:-29.50px;width:300px">176</div>
<div class="t r " style="top:691.90px;left:49.60px;width:300px">0.01</div>
<div class="t r " style="top:691.90px;left:128.10px;width:300px">[0.00; 0.04]</div>
<div class="t r " style="top:691.90px;left:381.90px;width:300px">0.8%</div>
<div class="t " style="top:708.39px;left:5px">Legese et al (2020)</div>
<div class="t r " style="top:708.39px;left:-73.50px;width:300px">11</div>
<div class="t r " style="top:708.39px;left:-29.50px;width:300px">301</div>
<div class="t r " style="top:708.39px;left:49.60px;width:300px">0.04</div>
<div class="t r " style="top:708.39px;left:128.10px;width:300px">[0.02; 0.06]</div>
<div class="t r " style="top:708.39px;left:381.90px;width:300px">0.9%</div>
<div class="t " style="top:724.88px;left:5px">Leting et al (2022)</div>
<div class="t r " style="top:724.88px;left:-73.50px;width:300px">18</div>
<div class="t r " style="top:724.88px;left:-29.50px;width:300px">196</div>
<div class="t r " style="top:724.88px;left:49.60px;width:300px">0.09</div>
<div class="t r " style="top:724.88px;left:128.10px;width:300px">[0.06; 0.14]</div>
<div class="t r " style="top:724.88px;left:381.90px;width:300px">0.8%</div>
<div class="t " style="top:741.37px;left:5px">Mache (2001)</div>
<div class="t r " style="top:741.37px;left:-73.50px;width:300px">77</div>
<div class="t r " style="top:741.37px;left:-29.50px;width:300px">384</div>
<div class="t r " style="top:741.37px;left:49.60px;width:300px">0.20</div>
<div class="t r " style="top:741.37px;left:128.10px;width:300px">[0.16; 0.24]</div>
<div class="t r " style="top:741.37px;left:381.90px;width:300px">0.9%</div>
<div class="t " style="top:757.86px;left:5px">Mama and Alemu (2016)</div>
<div class="t r " style="top:757.86px;left:-73.50px;width:300px">10</div>
<div class="t r " style="top:757.86px;left:-29.50px;width:300px">345</div>
<div class="t r " style="top:757.86px;left:49.60px;width:300px">0.03</div>
<div class="t r " style="top:757.86px;left:128.10px;width:300px">[0.01; 0.05]</div>
<div class="t r " style="top:757.86px;left:381.90px;width:300px">0.9%</div>
<div class="t " style="top:774.35px;left:5px">Mamuye et al (2015)</div>
<div class="t r " style="top:774.35px;left:-73.50px;width:300px">23</div>
<div class="t r " style="top:774.35px;left:-29.50px;width:300px">253</div>
<div class="t r " style="top:774.35px;left:49.60px;width:300px">0.09</div>
<div class="t r " style="top:774.35px;left:128.10px;width:300px">[0.05; 0.13]</div>
<div class="t r " style="top:774.35px;left:381.90px;width:300px">0.9%</div>
<div class="t " style="top:790.84px;left:5px">Marami et al (2018)</div>
<div class="t r " style="top:790.84px;left:-73.50px;width:300px">6</div>
<div class="t r " style="top:790.84px;left:-29.50px;width:300px">417</div>
<div class="t r " style="top:790.84px;left:49.60px;width:300px">0.01</div>
<div class="t r " style="top:790.84px;left:128.10px;width:300px">[0.01; 0.03]</div>
<div class="t r " style="top:790.84px;left:381.90px;width:300px">0.9%</div>
<div class="t " style="top:807.33px;left:5px">Mbuthia et al (2018)</div>
<div class="t r " style="top:807.33px;left:-73.50px;width:300px">14</div>
<div class="t r " style="top:807.33px;left:-29.50px;width:300px">163</div>
<div class="t r " style="top:807.33px;left:49.60px;width:300px">0.09</div>
<div class="t r " style="top:807.33px;left:128.10px;width:300px">[0.05; 0.14]</div>
<div class="t r " style="top:807.33px;left:381.90px;width:300px">0.8%</div>
<div class="t " style="top:823.82px;left:5px">Mengist et al (2018)</div>
<div class="t r " style="top:823.82px;left:-73.50px;width:300px">5</div>
<div class="t r " style="top:823.82px;left:-29.50px;width:300px">220</div>
<div class="t r " style="top:823.82px;left:49.60px;width:300px">0.02</div>
<div class="t r " style="top:823.82px;left:128.10px;width:300px">[0.01; 0.05]</div>
<div class="t r " style="top:823.82px;left:381.90px;width:300px">0.8%</div>
<div class="t " style="top:840.31px;left:5px">Mengistu et al (2014)</div>
<div class="t r " style="top:840.31px;left:-73.50px;width:300px">17</div>
<div class="t r " style="top:840.31px;left:-29.50px;width:300px">382</div>
<div class="t r " style="top:840.31px;left:49.60px;width:300px">0.04</div>
<div class="t r " style="top:840.31px;left:128.10px;width:300px">[0.03; 0.07]</div>
<div class="t r " style="top:840.31px;left:381.90px;width:300px">0.9%</div>
<div class="t " style="top:856.80px;left:5px">Mikhail et al (1990)</div>
<div class="t r " style="top:856.80px;left:-73.50px;width:300px">16</div>
<div class="t r " style="top:856.80px;left:-29.50px;width:300px">309</div>
<div class="t r " style="top:856.80px;left:49.60px;width:300px">0.05</div>
<div class="t r " style="top:856.80px;left:128.10px;width:300px">[0.03; 0.08]</div>
<div class="t r " style="top:856.80px;left:381.90px;width:300px">0.9%</div>
<div class="t " style="top:873.29px;left:5px">Mogga et al (2015)</div>
<div class="t r " style="top:873.29px;left:-73.50px;width:300px">15</div>
<div class="t r " style="top:873.29px;left:-29.50px;width:300px">286</div>
<div class="t r " style="top:873.29px;left:49.60px;width:300px">0.05</div>
<div class="t r " style="top:873.29px;left:128.10px;width:300px">[0.03; 0.09]</div>
<div class="t r " style="top:873.29px;left:381.90px;width:300px">0.9%</div>
<div class="t " style="top:889.78px;left:5px">Moyo et al (2011)</div>
<div class="t r " style="top:889.78px;left:-73.50px;width:300px">15</div>
<div class="t r " style="top:889.78px;left:-29.50px;width:300px">280</div>
<div class="t r " style="top:889.78px;left:49.60px;width:300px">0.05</div>
<div class="t r " style="top:889.78px;left:128.10px;width:300px">[0.03; 0.09]</div>
<div class="t r " style="top:889.78px;left:381.90px;width:300px">0.9%</div>
<div class="t " style="top:906.27px;left:5px">Mulatu et al (2014)</div>
<div class="t r " style="top:906.27px;left:-73.50px;width:300px">11</div>
<div class="t r " style="top:906.27px;left:-29.50px;width:300px">158</div>
<div class="t r " style="top:906.27px;left:49.60px;width:300px">0.07</div>
<div class="t r " style="top:906.27px;left:128.10px;width:300px">[0.04; 0.12]</div>
<div class="t r " style="top:906.27px;left:381.90px;width:300px">0.8%</div>
<div class="t " style="top:922.76px;left:5px">Mulu et al (2017)</div>
<div class="t r " style="top:922.76px;left:-73.50px;width:300px">10</div>
<div class="t r " style="top:922.76px;left:-29.50px;width:300px">575</div>
<div class="t r " style="top:922.76px;left:49.60px;width:300px">0.02</div>
<div class="t r " style="top:922.76px;left:128.10px;width:300px">[0.01; 0.03]</div>
<div class="t r " style="top:922.76px;left:381.90px;width:300px">0.9%</div>
<div class="t " style="top:939.25px;left:5px">Njuguna et al (2013)</div>
<div class="t r " style="top:939.25px;left:-73.50px;width:300px">262</div>
<div class="t r " style="top:939.25px;left:-29.50px;width:300px">1096</div>
<div class="t r " style="top:939.25px;left:49.60px;width:300px">0.24</div>
<div class="t r " style="top:939.25px;left:128.10px;width:300px">[0.21; 0.26]</div>
<div class="t r " style="top:939.25px;left:381.90px;width:300px">0.9%</div>
<div class="t " style="top:955.74px;left:5px">Njuguna et al (2016)</div>
<div class="t r " style="top:955.74px;left:-73.50px;width:300px">67</div>
<div class="t r " style="top:955.74px;left:-29.50px;width:300px">284</div>
<div class="t r " style="top:955.74px;left:49.60px;width:300px">0.24</div>
<div class="t r " style="top:955.74px;left:128.10px;width:300px">[0.19; 0.29]</div>
<div class="t r " style="top:955.74px;left:381.90px;width:300px">0.9%</div>
<div class="t " style="top:972.24px;left:5px">Oketcho et al (2012)</div>
<div class="t r " style="top:972.24px;left:-73.50px;width:300px">3</div>
<div class="t r " style="top:972.24px;left:-29.50px;width:300px">151</div>
<div class="t r " style="top:972.24px;left:49.60px;width:300px">0.02</div>
<div class="t r " style="top:972.24px;left:128.10px;width:300px">[0.01; 0.06]</div>
<div class="t r " style="top:972.24px;left:381.90px;width:300px">0.8%</div>
<div class="t " style="top:988.73px;left:5px">Olipher et al (2020)</div>
<div class="t r " style="top:988.73px;left:-73.50px;width:300px">47</div>
<div class="t r " style="top:988.73px;left:-29.50px;width:300px">400</div>
<div class="t r " style="top:988.73px;left:49.60px;width:300px">0.12</div>
<div class="t r " style="top:988.73px;left:128.10px;width:300px">[0.09; 0.15]</div>
<div class="t r " style="top:988.73px;left:381.90px;width:300px">0.9%</div>
<div class="t " style="top:1005.22px;left:5px">Onyango et al (2019)</div>
<div class="t r " style="top:1005.22px;left:-73.50px;width:300px">13</div>
<div class="t r " style="top:1005.22px;left:-29.50px;width:300px">186</div>
<div class="t r " style="top:1005.22px;left:49.60px;width:300px">0.07</div>
<div class="t r " style="top:1005.22px;left:128.10px;width:300px">[0.04; 0.12]</div>
<div class="t r " style="top:1005.22px;left:381.90px;width:300px">0.8%</div>
<div class="t " style="top:1021.71px;left:5px">Pavlinac et al (2015)</div>
<div class="t r " style="top:1021.71px;left:-73.50px;width:300px">63</div>
<div class="t r " style="top:1021.71px;left:-29.50px;width:300px">1360</div>
<div class="t r " style="top:1021.71px;left:49.60px;width:300px">0.05</div>
<div class="t r " style="top:1021.71px;left:128.10px;width:300px">[0.04; 0.06]</div>
<div class="t r " style="top:1021.71px;left:381.90px;width:300px">0.9%</div>
<div class="t " style="top:1038.20px;left:5px">Phiri et al (2021)</div>
<div class="t r " style="top:1038.20px;left:-73.50px;width:300px">34</div>
<div class="t r " style="top:1038.20px;left:-29.50px;width:300px">243</div>
<div class="t r " style="top:1038.20px;left:49.60px;width:300px">0.14</div>
<div class="t r " style="top:1038.20px;left:128.10px;width:300px">[0.10; 0.19]</div>
<div class="t r " style="top:1038.20px;left:381.90px;width:300px">0.9%</div>
<div class="t " style="top:1054.69px;left:5px">Pitman et al (1996)</div>
<div class="t r " style="top:1054.69px;left:-73.50px;width:300px">34</div>
<div class="t r " style="top:1054.69px;left:-29.50px;width:300px">132</div>
<div class="t r " style="top:1054.69px;left:49.60px;width:300px">0.26</div>
<div class="t r " style="top:1054.69px;left:128.10px;width:300px">[0.19; 0.34]</div>
<div class="t r " style="top:1054.69px;left:381.90px;width:300px">0.8%</div>
<div class="t " style="top:1071.18px;left:5px">Randremanana et al (2016)</div>
<div class="t r " style="top:1071.18px;left:-73.50px;width:300px">5</div>
<div class="t r " style="top:1071.18px;left:-29.50px;width:300px">498</div>
<div class="t r " style="top:1071.18px;left:49.60px;width:300px">0.01</div>
<div class="t r " style="top:1071.18px;left:128.10px;width:300px">[0.00; 0.02]</div>
<div class="t r " style="top:1071.18px;left:381.90px;width:300px">0.9%</div>
<div class="t " style="top:1087.67px;left:5px">Reda et al (2011)</div>
<div class="t r " style="top:1087.67px;left:-73.50px;width:300px">16</div>
<div class="t r " style="top:1087.67px;left:-29.50px;width:300px">244</div>
<div class="t r " style="top:1087.67px;left:49.60px;width:300px">0.07</div>
<div class="t r " style="top:1087.67px;left:128.10px;width:300px">[0.04; 0.10]</div>
<div class="t r " style="top:1087.67px;left:381.90px;width:300px">0.9%</div>
<div class="t " style="top:1104.16px;left:5px">Rogawski et al (2020)</div>
<div class="t r " style="top:1104.16px;left:-73.50px;width:300px">5</div>
<div class="t r " style="top:1104.16px;left:-29.50px;width:300px">2897</div>
<div class="t r " style="top:1104.16px;left:49.60px;width:300px">0.00</div>
<div class="t r " style="top:1104.16px;left:128.10px;width:300px">[0.00; 0.00]</div>
<div class="t r " style="top:1104.16px;left:381.90px;width:300px">0.9%</div>
<div class="t " style="top:1120.65px;left:5px">Roma et al (2000)</div>
<div class="t r " style="top:1120.65px;left:-73.50px;width:300px">100</div>
<div class="t r " style="top:1120.65px;left:-29.50px;width:300px">289</div>
<div class="t r " style="top:1120.65px;left:49.60px;width:300px">0.35</div>
<div class="t r " style="top:1120.65px;left:128.10px;width:300px">[0.29; 0.40]</div>
<div class="t r " style="top:1120.65px;left:381.90px;width:300px">0.9%</div>
<div class="t " style="top:1137.14px;left:5px">Samuel et al (2019)</div>
<div class="t r " style="top:1137.14px;left:-73.50px;width:300px">13</div>
<div class="t r " style="top:1137.14px;left:-29.50px;width:300px">190</div>
<div class="t r " style="top:1137.14px;left:49.60px;width:300px">0.07</div>
<div class="t r " style="top:1137.14px;left:128.10px;width:300px">[0.04; 0.11]</div>
<div class="t r " style="top:1137.14px;left:381.90px;width:300px">0.8%</div>
<div class="t " style="top:1153.63px;left:5px">Sang et al (2012)</div>
<div class="t r " style="top:1153.63px;left:-73.50px;width:300px">15</div>
<div class="t r " style="top:1153.63px;left:-29.50px;width:300px">651</div>
<div class="t r " style="top:1153.63px;left:49.60px;width:300px">0.02</div>
<div class="t r " style="top:1153.63px;left:128.10px;width:300px">[0.01; 0.04]</div>
<div class="t r " style="top:1153.63px;left:381.90px;width:300px">0.9%</div>
<div class="t " style="top:1170.12px;left:5px">Shah et al (2016)</div>
<div class="t r " style="top:1170.12px;left:-73.50px;width:300px">19</div>
<div class="t r " style="top:1170.12px;left:-29.50px;width:300px">1410</div>
<div class="t r " style="top:1170.12px;left:49.60px;width:300px">0.01</div>
<div class="t r " style="top:1170.12px;left:128.10px;width:300px">[0.01; 0.02]</div>
<div class="t r " style="top:1170.12px;left:381.90px;width:300px">0.9%</div>
<div class="t " style="top:1186.61px;left:5px">Sharp et al (1995)</div>
<div class="t r " style="top:1186.61px;left:-73.50px;width:300px">37</div>
<div class="t r " style="top:1186.61px;left:-29.50px;width:300px">113</div>
<div class="t r " style="top:1186.61px;left:49.60px;width:300px">0.33</div>
<div class="t r " style="top:1186.61px;left:128.10px;width:300px">[0.24; 0.42]</div>
<div class="t r " style="top:1186.61px;left:381.90px;width:300px">0.8%</div>
<div class="t " style="top:1203.10px;left:5px">Tadesse et al (2019)</div>
<div class="t r " style="top:1203.10px;left:-73.50px;width:300px">6</div>
<div class="t r " style="top:1203.10px;left:-29.50px;width:300px">218</div>
<div class="t r " style="top:1203.10px;left:49.60px;width:300px">0.03</div>
<div class="t r " style="top:1203.10px;left:128.10px;width:300px">[0.01; 0.06]</div>
<div class="t r " style="top:1203.10px;left:381.90px;width:300px">0.8%</div>
<div class="t " style="top:1219.59px;left:5px">Terfassa and Jida (2018)</div>
<div class="t r " style="top:1219.59px;left:-73.50px;width:300px">9</div>
<div class="t r " style="top:1219.59px;left:-29.50px;width:300px">422</div>
<div class="t r " style="top:1219.59px;left:49.60px;width:300px">0.02</div>
<div class="t r " style="top:1219.59px;left:128.10px;width:300px">[0.01; 0.04]</div>
<div class="t r " style="top:1219.59px;left:381.90px;width:300px">0.9%</div>
<div class="t " style="top:1236.08px;left:5px">Teshome et al (2019)</div>
<div class="t r " style="top:1236.08px;left:-73.50px;width:300px">22</div>
<div class="t r " style="top:1236.08px;left:-29.50px;width:300px">232</div>
<div class="t r " style="top:1236.08px;left:49.60px;width:300px">0.09</div>
<div class="t r " style="top:1236.08px;left:128.10px;width:300px">[0.06; 0.14]</div>
<div class="t r " style="top:1236.08px;left:381.90px;width:300px">0.8%</div>
<div class="t " style="top:1252.57px;left:5px">Tiruneh (2009)</div>
<div class="t r " style="top:1252.57px;left:-73.50px;width:300px">90</div>
<div class="t r " style="top:1252.57px;left:-29.50px;width:300px">1200</div>
<div class="t r " style="top:1252.57px;left:49.60px;width:300px">0.07</div>
<div class="t r " style="top:1252.57px;left:128.10px;width:300px">[0.06; 0.09]</div>
<div class="t r " style="top:1252.57px;left:381.90px;width:300px">0.9%</div>
<div class="t " style="top:1269.06px;left:5px">Tosisa et al (2020)</div>
<div class="t r " style="top:1269.06px;left:-73.50px;width:300px">6</div>
<div class="t r " style="top:1269.06px;left:-29.50px;width:300px">239</div>
<div class="t r " style="top:1269.06px;left:49.60px;width:300px">0.03</div>
<div class="t r " style="top:1269.06px;left:128.10px;width:300px">[0.01; 0.06]</div>
<div class="t r " style="top:1269.06px;left:381.90px;width:300px">0.8%</div>
<div class="t " style="top:1285.55px;left:5px">van Eijk et al (2009)</div>
<div class="t r " style="top:1285.55px;left:-73.50px;width:300px">34</div>
<div class="t r " style="top:1285.55px;left:-29.50px;width:300px">630</div>
<div class="t r " style="top:1285.55px;left:49.60px;width:300px">0.05</div>
<div class="t r " style="top:1285.55px;left:128.10px;width:300px">[0.04; 0.07]</div>
<div class="t r " style="top:1285.55px;left:381.90px;width:300px">0.9%</div>
<div class="t " style="top:1302.04px;left:5px">Vubil et al (2018)</div>
<div class="t r " style="top:1302.04px;left:-73.50px;width:300px">67</div>
<div class="t r " style="top:1302.04px;left:-29.50px;width:300px">916</div>
<div class="t r " style="top:1302.04px;left:49.60px;width:300px">0.07</div>
<div class="t r " style="top:1302.04px;left:128.10px;width:300px">[0.06; 0.09]</div>
<div class="t r " style="top:1302.04px;left:381.90px;width:300px">0.9%</div>
<div class="t " style="top:1318.53px;left:5px">Webale et al (2020)</div>
<div class="t r " style="top:1318.53px;left:-73.50px;width:300px">12</div>
<div class="t r " style="top:1318.53px;left:-29.50px;width:300px">374</div>
<div class="t r " style="top:1318.53px;left:49.60px;width:300px">0.03</div>
<div class="t r " style="top:1318.53px;left:128.10px;width:300px">[0.02; 0.06]</div>
<div class="t r " style="top:1318.53px;left:381.90px;width:300px">0.9%</div>
<div class="t " style="top:1335.02px;left:5px">Yismaw et al (2008)</div>
<div class="t r " style="top:1335.02px;left:-73.50px;width:300px">214</div>
<div class="t r " style="top:1335.02px;left:-29.50px;width:300px">2891</div>
<div class="t r " style="top:1335.02px;left:49.60px;width:300px">0.07</div>
<div class="t r " style="top:1335.02px;left:128.10px;width:300px">[0.06; 0.08]</div>
<div class="t r " style="top:1335.02px;left:381.90px;width:300px">0.9%</div>
<div class="t " style="top:1351.52px;left:5px">Zachariah et al (2021)</div>
<div class="t r " style="top:1351.52px;left:-73.50px;width:300px">28</div>
<div class="t r " style="top:1351.52px;left:-29.50px;width:300px">139</div>
<div class="t r " style="top:1351.52px;left:49.60px;width:300px">0.20</div>
<div class="t r " style="top:1351.52px;left:128.10px;width:300px">[0.14; 0.28]</div>
<div class="t r " style="top:1351.52px;left:381.90px;width:300px">0.8%</div>
<div class="t b m" style="top:1368.01px;left:5px">Random effects model</div>
<div class="t r b m" style="top:1368.01px;left:-29.50px;width:300px">.</div>
<div class="t r b m" style="top:1368.01px;left:49.60px;width:300px">0.07</div>
<div class="t r b m" style="top:1368.01px;left:128.10px;width:300px">[0.05; 0.09]</div>
<div class="t r b m" style="top:1368.01px;left:381.90px;width:300px">55.9%</div>
<div class="t h m" style="top:1383.70px;left:5.5px">Heterogeneity: <i>I</i><sup class="s1">2</sup> = <span class="g">97%</span>, <span class="tau">&tau;</span><sup class="s2">2</sup> = 0.0163, <span class="chi">&chi;<sup>2</sup><sub>64</sub></span> = <span class="q">2300.5</span> <span class="pv">(<i>p</i> = 0)</span></div>
<div class="t b m" style="top:1417.48px;left:5px">Region = West</div>
<div class="t " style="top:1433.97px;left:5px">Afum et al (2022)</div>
<div class="t r " style="top:1433.97px;left:-73.50px;width:300px">17</div>
<div class="t r " style="top:1433.97px;left:-29.50px;width:300px">792</div>
<div class="t r " style="top:1433.97px;left:49.60px;width:300px">0.02</div>
<div class="t r " style="top:1433.97px;left:128.10px;width:300px">[0.01; 0.03]</div>
<div class="t r " style="top:1433.97px;left:381.90px;width:300px">0.9%</div>
<div class="t " style="top:1450.46px;left:5px">Ajayi et al (2019)</div>
<div class="t r " style="top:1450.46px;left:-73.50px;width:300px">10</div>
<div class="t r " style="top:1450.46px;left:-29.50px;width:300px">248</div>
<div class="t r " style="top:1450.46px;left:49.60px;width:300px">0.04</div>
<div class="t r " style="top:1450.46px;left:128.10px;width:300px">[0.02; 0.07]</div>
<div class="t r " style="top:1450.46px;left:381.90px;width:300px">0.9%</div>
<div class="t " style="top:1466.95px;left:5px">Antoine et al (2010)</div>
<div class="t r " style="top:1466.95px;left:-73.50px;width:300px">41</div>
<div class="t r " style="top:1466.95px;left:-29.50px;width:300px">1566</div>
<div class="t r " style="top:1466.95px;left:49.60px;width:300px">0.03</div>
<div class="t r " style="top:1466.95px;left:128.10px;width:300px">[0.02; 0.03]</div>
<div class="t r " style="top:1466.95px;left:381.90px;width:300px">0.9%</div>
<div class="t " style="top:1483.44px;left:5px">Bonkungou et al (2013)</div>
<div class="t r " style="top:1483.44px;left:-73.50px;width:300px">16</div>
<div class="t r " style="top:1483.44px;left:-29.50px;width:300px">283</div>
<div class="t r " style="top:1483.44px;left:49.60px;width:300px">0.06</div>
<div class="t r " style="top:1483.44px;left:128.10px;width:300px">[0.03; 0.09]</div>
<div class="t r " style="top:1483.44px;left:381.90px;width:300px">0.9%</div>
<div class="t " style="top:1499.93px;left:5px">Dije-Maletz et al (2008)</div>
<div class="t r " style="top:1499.93px;left:-73.50px;width:300px">5</div>
<div class="t r " style="top:1499.93px;left:-29.50px;width:300px">367</div>
<div class="t r " style="top:1499.93px;left:49.60px;width:300px">0.01</div>
<div class="t r " style="top:1499.93px;left:128.10px;width:300px">[0.01; 0.03]</div>
<div class="t r " style="top:1499.93px;left:381.90px;width:300px">0.9%</div>
<div class="t " style="top:1516.42px;left:5px">Feglo et al (2019)</div>
<div class="t r " style="top:1516.42px;left:-73.50px;width:300px">3</div>
<div class="t r " style="top:1516.42px;left:-29.50px;width:300px">508</div>
<div class="t r " style="top:1516.42px;left:49.60px;width:300px">0.01</div>
<div class="t r " style="top:1516.42px;left:128.10px;width:300px">[0.00; 0.02]</div>
<div class="t r " style="top:1516.42px;left:381.90px;width:300px">0.9%</div>
<div class="t " style="top:1532.91px;left:5px">Illa et al (2022)</div>
<div class="t r " style="top:1532.91px;left:-73.50px;width:300px">16</div>
<div class="t r " style="top:1532.91px;left:-29.50px;width:300px">316</div>
<div class="t r " style="top:1532.91px;left:49.60px;width:300px">0.05</div>
<div class="t r " style="top:1532.91px;left:128.10px;width:300px">[0.03; 0.08]</div>
<div class="t r " style="top:1532.91px;left:381.90px;width:300px">0.9%</div>
<div class="t " style="top:1549.40px;left:5px">Imade et al (2015)</div>
<div class="t r " style="top:1549.40px;left:-73.50px;width:300px">4</div>
<div class="t r " style="top:1549.40px;left:-29.50px;width:300px">626</div>
<div class="t r " style="top:1549.40px;left:49.60px;width:300px">0.01</div>
<div class="t r " style="top:1549.40px;left:128.10px;width:300px">[0.00; 0.02]</div>
<div class="t r " style="top:1549.40px;left:381.90px;width:300px">0.9%</div>
<div class="t " style="top:1565.89px;left:5px">Iwalokun et al (2001)</div>
<div class="t r " style="top:1565.89px;left:-73.50px;width:300px">62</div>
<div class="t r " style="top:1565.89px;left:-29.50px;width:300px">1020</div>
<div class="t r " style="top:1565.89px;left:49.60px;width:300px">0.06</div>
<div class="t r " style="top:1565.89px;left:128.10px;width:300px">[0.05; 0.08]</div>
<div class="t r " style="top:1565.89px;left:381.90px;width:300px">0.9%</div>
<div class="t " style="top:1582.38px;left:5px">Kasumba et al (2023)</div>
<div class="t r " style="top:1582.38px;left:-73.50px;width:300px">264</div>
<div class="t r " style="top:1582.38px;left:-29.50px;width:300px">3816</div>
<div class="t r " style="top:1582.38px;left:49.60px;width:300px">0.07</div>
<div class="t r " style="top:1582.38px;left:128.10px;width:300px">[0.06; 0.08]</div>
<div class="t r " style="top:1582.38px;left:381.90px;width:300px">0.9%</div>
<div class="t " style="top:1598.87px;left:5px">Kasumba et al (2023)</div>
<div class="t r " style="top:1598.87px;left:-73.50px;width:300px">18</div>
<div class="t r " style="top:1598.87px;left:-29.50px;width:300px">3588</div>
<div class="t r " style="top:1598.87px;left:49.60px;width:300px">0.01</div>
<div class="t r " style="top:1598.87px;left:128.10px;width:300px">[0.00; 0.01]</div>
<div class="t r " style="top:1598.87px;left:381.90px;width:300px">0.9%</div>
<div class="t " style="top:1615.36px;left:5px">Lawande et al (1987)</div>
<div class="t r " style="top:1615.36px;left:-73.50px;width:300px">362</div>
<div class="t r " style="top:1615.36px;left:-29.50px;width:300px">12150</div>
<div class="t r " style="top:1615.36px;left:49.60px;width:300px">0.03</div>
<div class="t r " style="top:1615.36px;left:128.10px;width:300px">[0.02; 0.03]</div>
<div class="t r " style="top:1615.36px;left:381.90px;width:300px">0.9%</div>
<div class="t " style="top:1631.85px;left:5px">Moses et al (2023)</div>
<div class="t r " style="top:1631.85px;left:-73.50px;width:300px">8</div>
<div class="t r " style="top:1631.85px;left:-29.50px;width:300px">250</div>
<div class="t r " style="top:1631.85px;left:49.60px;width:300px">0.03</div>
<div class="t r " style="top:1631.85px;left:128.10px;width:300px">[0.02; 0.06]</div>
<div class="t r " style="top:1631.85px;left:381.90px;width:300px">0.9%</div>
<div class="t " style="top:1648.34px;left:5px">Ngoshe et al (2017)</div>
<div class="t r " style="top:1648.34px;left:-73.50px;width:300px">32</div>
<div class="t r " style="top:1648.34px;left:-29.50px;width:300px">400</div>
<div class="t r " style="top:1648.34px;left:49.60px;width:300px">0.08</div>
<div class="t r " style="top:1648.34px;left:128.10px;width:300px">[0.06; 0.11]</div>
<div class="t r " style="top:1648.34px;left:381.90px;width:300px">0.9%</div>
<div class="t " style="top:1664.83px;left:5px">Nitiema et al (2011)</div>
<div class="t r " style="top:1664.83px;left:-73.50px;width:300px">18</div>
<div class="t r " style="top:1664.83px;left:-29.50px;width:300px">309</div>
<div class="t r " style="top:1664.83px;left:49.60px;width:300px">0.06</div>
<div class="t r " style="top:1664.83px;left:128.10px;width:300px">[0.03; 0.09]</div>
<div class="t r " style="top:1664.83px;left:381.90px;width:300px">0.9%</div>
<div class="t " style="top:1681.32px;left:5px">Ogunsanya et al (1994)</div>
<div class="t r " style="top:1681.32px;left:-73.50px;width:300px">16</div>
<div class="t r " style="top:1681.32px;left:-29.50px;width:300px">315</div>
<div class="t r " style="top:1681.32px;left:49.60px;width:300px">0.05</div>
<div class="t r " style="top:1681.32px;left:128.10px;width:300px">[0.03; 0.08]</div>
<div class="t r " style="top:1681.32px;left:381.90px;width:300px">0.9%</div>
<div class="t " style="top:1697.81px;left:5px">Oko et al (2014)</div>
<div class="t r " style="top:1697.81px;left:-73.50px;width:300px">8</div>
<div class="t r " style="top:1697.81px;left:-29.50px;width:300px">154</div>
<div class="t r " style="top:1697.81px;left:49.60px;width:300px">0.05</div>
<div class="t r " style="top:1697.81px;left:128.10px;width:300px">[0.02; 0.10]</div>
<div class="t r " style="top:1697.81px;left:381.90px;width:300px">0.8%</div>
<div class="t " style="top:1714.30px;left:5px">Opintan et al (2010)</div>
<div class="t r " style="top:1714.30px;left:-73.50px;width:300px">1</div>
<div class="t r " style="top:1714.30px;left:-29.50px;width:300px">170</div>
<div class="t r " style="top:1714.30px;left:49.60px;width:300px">0.01</div>
<div class="t r " style="top:1714.30px;left:128.10px;width:300px">[0.00; 0.03]</div>
<div class="t r " style="top:1714.30px;left:381.90px;width:300px">0.8%</div>
<div class="t " style="top:1730.80px;left:5px">Reither et al (2007)</div>
<div class="t r " style="top:1730.80px;left:-73.50px;width:300px">5</div>
<div class="t r " style="top:1730.80px;left:-29.50px;width:300px">367</div>
<div class="t r " style="top:1730.80px;left:49.60px;width:300px">0.01</div>
<div class="t r " style="top:1730.80px;left:128.10px;width:300px">[0.00; 0.03]</div>
<div class="t r " style="top:1730.80px;left:381.90px;width:300px">0.9%</div>
<div class="t " style="top:1747.29px;left:5px">Sambe-Ba et al (2013)</div>
<div class="t r " style="top:1747.29px;left:-73.50px;width:300px">28</div>
<div class="t r " style="top:1747.29px;left:-29.50px;width:300px">223</div>
<div class="t r " style="top:1747.29px;left:49.60px;width:300px">0.13</div>
<div class="t r " style="top:1747.29px;left:128.10px;width:300px">[0.09; 0.18]</div>
<div class="t r " style="top:1747.29px;left:381.90px;width:300px">0.8%</div>
<div class="t " style="top:1763.78px;left:5px">Seyi et al (2021)</div>
<div class="t r " style="top:1763.78px;left:-73.50px;width:300px">0</div>
<div class="t r " style="top:1763.78px;left:-29.50px;width:300px">120</div>
<div class="t r " style="top:1763.78px;left:49.60px;width:300px">0.00</div>
<div class="t r " style="top:1763.78px;left:128.10px;width:300px">[0.00; 0.03]</div>
<div class="t r " style="top:1763.78px;left:381.90px;width:300px">0.8%</div>
<div class="t " style="top:1780.27px;left:5px">Sire et al (2013)</div>
<div class="t r " style="top:1780.27px;left:-73.50px;width:300px">21</div>
<div class="t r " style="top:1780.27px;left:-29.50px;width:300px">176</div>
<div class="t r " style="top:1780.27px;left:49.60px;width:300px">0.12</div>
<div class="t r " style="top:1780.27px;left:128.10px;width:300px">[0.08; 0.18]</div>
<div class="t r " style="top:1780.27px;left:381.90px;width:300px">0.8%</div>
<div class="t " style="top:1796.76px;left:5px">Sulaiman et al (2020)</div>
<div class="t r " style="top:1796.76px;left:-73.50px;width:300px">5</div>
<div class="t r " style="top:1796.76px;left:-29.50px;width:300px">540</div>
<div class="t r " style="top:1796.76px;left:49.60px;width:300px">0.01</div>
<div class="t r " style="top:1796.76px;left:128.10px;width:300px">[0.00; 0.02]</div>
<div class="t r " style="top:1796.76px;left:381.90px;width:300px">0.9%</div>
<div class="t " style="top:1813.25px;left:5px">Udo and Eja (2004)</div>
<div class="t r " style="top:1813.25px;left:-73.50px;width:300px">123</div>
<div class="t r " style="top:1813.25px;left:-29.50px;width:300px">593</div>
<div class="t r " style="top:1813.25px;left:49.60px;width:300px">0.21</div>
<div class="t r " style="top:1813.25px;left:128.10px;width:300px">[0.17; 0.24]</div>
<div class="t r " style="top:1813.25px;left:381.90px;width:300px">0.9%</div>
<div class="t b m" style="top:1829.74px;left:5px">Random effects model</div>
<div class="t r b m" style="top:1829.74px;left:-29.50px;width:300px">.</div>
<div class="t r b m" style="top:1829.74px;left:49.60px;width:300px">0.04</div>
<div class="t r b m" style="top:1829.74px;left:128.10px;width:300px">[0.02; 0.06]</div>
<div class="t r b m" style="top:1829.74px;left:381.90px;width:300px">20.9%</div>
<div class="t h m" style="top:1845.43px;left:5.5px">Heterogeneity: <i>I</i><sup class="s1">2</sup> = <span class="g">97%</span>, <span class="tau">&tau;</span><sup class="s2">2</sup> = 0.0102, <span class="chi">&chi;<sup>2</sup><sub>23</sub></span> = <span class="q">682.46</span> <span class="pv">(<i>p</i> < 0.01)</span></div>
<div class="t b m" style="top:1879.21px;left:5px">Region = South</div>
<div class="t " style="top:1895.70px;left:5px">Amukoshi et al (2017)</div>
<div class="t r " style="top:1895.70px;left:-73.50px;width:300px">19</div>
<div class="t r " style="top:1895.70px;left:-29.50px;width:300px">1392</div>
<div class="t r " style="top:1895.70px;left:49.60px;width:300px">0.01</div>
<div class="t r " style="top:1895.70px;left:128.10px;width:300px">[0.01; 0.02]</div>
<div class="t r " style="top:1895.70px;left:381.90px;width:300px">0.9%</div>
<div class="t " style="top:1912.19px;left:5px">Chiyangi et al (2017)</div>
<div class="t r " style="top:1912.19px;left:-73.50px;width:300px">12</div>
<div class="t r " style="top:1912.19px;left:-29.50px;width:300px">271</div>
<div class="t r " style="top:1912.19px;left:49.60px;width:300px">0.04</div>
<div class="t r " style="top:1912.19px;left:128.10px;width:300px">[0.02; 0.08]</div>
<div class="t r " style="top:1912.19px;left:381.90px;width:300px">0.9%</div>
<div class="t " style="top:1928.68px;left:5px">Kalule et al (2019)</div>
<div class="t r " style="top:1928.68px;left:-73.50px;width:300px">11</div>
<div class="t r " style="top:1928.68px;left:-29.50px;width:300px">66</div>
<div class="t r " style="top:1928.68px;left:49.60px;width:300px">0.17</div>
<div class="t r " style="top:1928.68px;left:128.10px;width:300px">[0.09; 0.28]</div>
<div class="t r " style="top:1928.68px;left:381.90px;width:300px">0.7%</div>
<div class="t " style="top:1945.17px;left:5px">Richardson et al (1966)</div>
<div class="t r " style="top:1945.17px;left:-73.50px;width:300px">8</div>
<div class="t r " style="top:1945.17px;left:-29.50px;width:300px">130</div>
<div class="t r " style="top:1945.17px;left:49.60px;width:300px">0.06</div>
<div class="t r " style="top:1945.17px;left:128.10px;width:300px">[0.03; 0.12]</div>
<div class="t r " style="top:1945.17px;left:381.90px;width:300px">0.8%</div>
<div class="t " style="top:1961.66px;left:5px">Rogawski et al (2020)</div>
<div class="t r " style="top:1961.66px;left:-73.50px;width:300px">3</div>
<div class="t r " style="top:1961.66px;left:-29.50px;width:300px">3158</div>
<div class="t r " style="top:1961.66px;left:49.60px;width:300px">0.00</div>
<div class="t r " style="top:1961.66px;left:128.10px;width:300px">[0.00; 0.00]</div>
<div class="t r " style="top:1961.66px;left:381.90px;width:300px">0.9%</div>
<div class="t " style="top:1978.15px;left:5px">Samie et al (2009)</div>
<div class="t r " style="top:1978.15px;left:-73.50px;width:300px">51</div>
<div class="t r " style="top:1978.15px;left:-29.50px;width:300px">823</div>
<div class="t r " style="top:1978.15px;left:49.60px;width:300px">0.06</div>
<div class="t r " style="top:1978.15px;left:128.10px;width:300px">[0.05; 0.08]</div>
<div class="t r " style="top:1978.15px;left:381.90px;width:300px">0.9%</div>
<div class="t " style="top:1994.64px;left:5px">Urio et al (2001)</div>
<div class="t r " style="top:1994.64px;left:-73.50px;width:300px">45</div>
<div class="t r " style="top:1994.64px;left:-29.50px;width:300px">321</div>
<div class="t r " style="top:1994.64px;left:49.60px;width:300px">0.14</div>
<div class="t r " style="top:1994.64px;left:128.10px;width:300px">[0.11; 0.18]</div>
<div class="t r " style="top:1994.64px;left:381.90px;width:300px">0.9%</div>
<div class="t b m" style="top:2011.13px;left:5px">Random effects model</div>
<div class="t r b m" style="top:2011.13px;left:-29.50px;width:300px">.</div>
<div class="t r b m" style="top:2011.13px;left:49.60px;width:300px">0.05</div>
<div class="t r b m" style="top:2011.13px;left:128.10px;width:300px">[0.02; 0.11]</div>
<div class="t r b m" style="top:2011.13px;left:381.90px;width:300px">5.9%</div>
<div class="t h m" style="top:2026.82px;left:5.5px">Heterogeneity: <i>I</i><sup class="s1">2</sup> = <span class="g">98%</span>, <span class="tau">&tau;</span><sup class="s2">2</sup> = 0.0178, <span class="chi">&chi;<sup>2</sup><sub>6</sub></span> = <span class="q">288.5</span> <span class="pv">(<i>p</i> < 0.01)</span></div>
<div class="t b m" style="top:2060.60px;left:5px">Region = Central</div>
<div class="t " style="top:2077.09px;left:5px">Bercion et al (2008)</div>
<div class="t r " style="top:2077.09px;left:-73.50px;width:300px">155</div>
<div class="t r " style="top:2077.09px;left:-29.50px;width:300px">3506</div>
<div class="t r " style="top:2077.09px;left:49.60px;width:300px">0.04</div>
<div class="t r " style="top:2077.09px;left:128.10px;width:300px">[0.04; 0.05]</div>
<div class="t r " style="top:2077.09px;left:381.90px;width:300px">0.9%</div>
<div class="t " style="top:2093.58px;left:5px">Hassan et al (2023)</div>
<div class="t r " style="top:2093.58px;left:-73.50px;width:300px">21</div>
<div class="t r " style="top:2093.58px;left:-29.50px;width:300px">400</div>
<div class="t r " style="top:2093.58px;left:49.60px;width:300px">0.05</div>
<div class="t r " style="top:2093.58px;left:128.10px;width:300px">[0.03; 0.08]</div>
<div class="t r " style="top:2093.58px;left:381.90px;width:300px">0.9%</div>
<div class="t " style="top:2110.07px;left:5px">Khan et al (2013)</div>
<div class="t r " style="top:2110.07px;left:-73.50px;width:300px">804</div>
<div class="t r " style="top:2110.07px;left:-29.50px;width:300px">5745</div>
<div class="t r " style="top:2110.07px;left:49.60px;width:300px">0.14</div>
<div class="t r " style="top:2110.07px;left:128.10px;width:300px">[0.13; 0.15]</div>
<div class="t r " style="top:2110.07px;left:381.90px;width:300px">0.9%</div>
<div class="t " style="top:2126.57px;left:5px">Lontsi et al (2017)</div>
<div class="t r " style="top:2126.57px;left:-73.50px;width:300px">182</div>
<div class="t r " style="top:2126.57px;left:-29.50px;width:300px">2500</div>
<div class="t r " style="top:2126.57px;left:49.60px;width:300px">0.07</div>
<div class="t r " style="top:2126.57px;left:128.10px;width:300px">[0.06; 0.08]</div>
<div class="t r " style="top:2126.57px;left:381.90px;width:300px">0.9%</div>
<div class="t " style="top:2143.06px;left:5px">Mabika et al (2020)</div>
<div class="t r " style="top:2143.06px;left:-73.50px;width:300px">5</div>
<div class="t r " style="top:2143.06px;left:-29.50px;width:300px">132</div>
<div class="t r " style="top:2143.06px;left:49.60px;width:300px">0.04</div>
<div class="t r " style="top:2143.06px;left:128.10px;width:300px">[0.02; 0.09]</div>
<div class="t r " style="top:2143.06px;left:381.90px;width:300px">0.8%</div>
<div class="t " style="top:2159.55px;left:5px">Manirakiza et al (2010)</div>
<div class="t r " style="top:2159.55px;left:-73.50px;width:300px">15</div>
<div class="t r " style="top:2159.55px;left:-29.50px;width:300px">156</div>
<div class="t r " style="top:2159.55px;left:49.60px;width:300px">0.10</div>
<div class="t r " style="top:2159.55px;left:128.10px;width:300px">[0.06; 0.16]</div>
<div class="t r " style="top:2159.55px;left:381.90px;width:300px">0.8%</div>
<div class="t " style="top:2176.04px;left:5px">Njunda et al (2012)</div>
<div class="t r " style="top:2176.04px;left:-73.50px;width:300px">10</div>
<div class="t r " style="top:2176.04px;left:-29.50px;width:300px">223</div>
<div class="t r " style="top:2176.04px;left:49.60px;width:300px">0.04</div>
<div class="t r " style="top:2176.04px;left:128.10px;width:300px">[0.02; 0.08]</div>
<div class="t r " style="top:2176.04px;left:381.90px;width:300px">0.8%</div>
<div class="t " style="top:2192.53px;left:5px">Nkengkana et al (2023)</div>
<div class="t r " style="top:2192.53px;left:-73.50px;width:300px">3</div>
<div class="t r " style="top:2192.53px;left:-29.50px;width:300px">597</div>
<div class="t r " style="top:2192.53px;left:49.60px;width:300px">0.01</div>
<div class="t r " style="top:2192.53px;left:128.10px;width:300px">[0.00; 0.02]</div>
<div class="t r " style="top:2192.53px;left:381.90px;width:300px">0.9%</div>
<div class="t " style="top:2209.02px;left:5px">Tchientcheu et al (2021)</div>
<div class="t r " style="top:2209.02px;left:-73.50px;width:300px">8</div>
<div class="t r " style="top:2209.02px;left:-29.50px;width:300px">206</div>
<div class="t r " style="top:2209.02px;left:49.60px;width:300px">0.04</div>
<div class="t r " style="top:2209.02px;left:128.10px;width:300px">[0.02; 0.07]</div>
<div class="t r " style="top:2209.02px;left:381.90px;width:300px">0.8%</div>
<div class="t b m" style="top:2225.51px;left:5px">Random effects model</div>
<div class="t r b m" style="top:2225.51px;left:-29.50px;width:300px">.</div>
<div class="t r b m" style="top:2225.51px;left:49.60px;width:300px">0.05</div>
<div class="t r b m" style="top:2225.51px;left:128.10px;width:300px">[0.03; 0.08]</div>
<div class="t r b m" style="top:2225.51px;left:381.90px;width:300px">7.8%</div>
<div class="t h m" style="top:2241.20px;left:5.5px">Heterogeneity: <i>I</i><sup class="s1">2</sup> = <span class="g">98%</span>, <span class="tau">&tau;</span><sup class="s2">2</sup> = 0.0072, <span class="chi">&chi;<sup>2</sup><sub>8</sub></span> = <span class="q">417.64</span> <span class="pv">(<i>p</i> < 0.01)</span></div>
<div class="t b" style="top:2274.98px;left:5px">Random effects model</div>
<div class="t r b" style="top:2274.98px;left:-29.50px;width:300px">.</div>
<div class="t r b" style="top:2274.98px;left:49.60px;width:300px">0.06</div>
<div class="t r b" style="top:2274.98px;left:128.10px;width:300px">[0.05; 0.07]</div>
<div class="t r b" style="top:2274.98px;left:381.90px;width:300px">100.0%</div>
<div class="t h" style="top:2290.67px;left:5.5px">Heterogeneity: <i>I</i><sup class="s1">2</sup> = <span class="g">98%</span>, <span class="tau">&tau;</span><sup class="s2">2</sup> = 0.0139, <span class="chi">&chi;<sup>2</sup><sub>115</sub></span> = <span class="q">4857.13</span> <span class="pv">(<i>p</i> = 0)</span></div>
<div class="t h" style="top:2307.16px;left:5px"><span class="ld">Test for subgroup differences: </span><span class="chi">&chi;<sup>2</sup><sub>4</sub></span> = 7.15, df = 4 (<i>p</i> = 0.13)</div>
<div class="t c" style="top:2306.70px;left:404.40px;width:60px">0</div>
<div class="t c" style="top:2306.70px;left:453.27px;width:60px">0.1</div>
<div class="t c" style="top:2306.70px;left:502.14px;width:60px">0.2</div>
<div class="t c" style="top:2306.70px;left:551.01px;width:60px">0.3</div>
<div class="t c" style="top:2306.70px;left:599.88px;width:60px">0.4</div>
<div class="t c" style="top:2324.10px;left:472.14px;width:120px">Prevalence</div></div>
</body></html>
